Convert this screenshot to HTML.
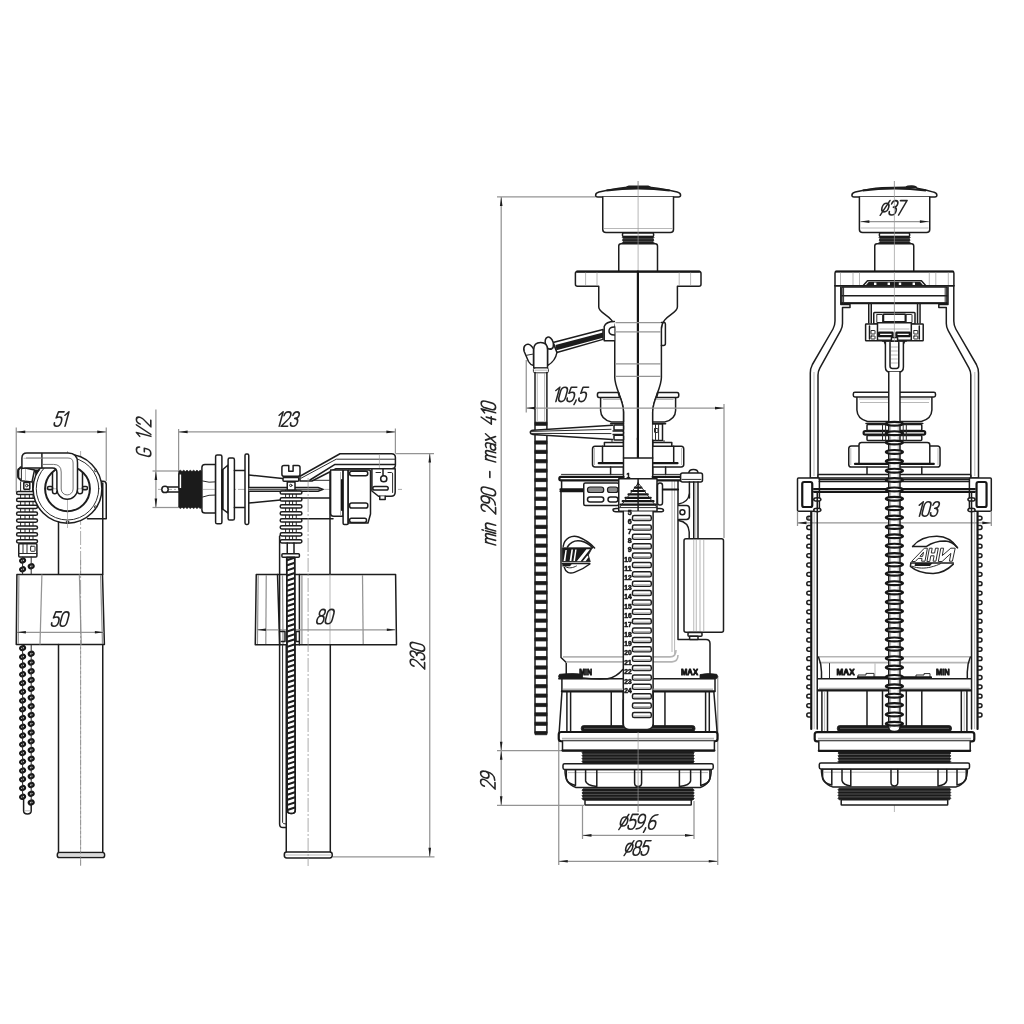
<!DOCTYPE html>
<html><head><meta charset="utf-8"><title>drawing</title>
<style>
html,body{margin:0;padding:0;background:#fff;}
body{width:1024px;height:1024px;overflow:hidden;font-family:"Liberation Sans",sans-serif;}
svg{display:block;filter:blur(0.4px) grayscale(1);}
.k{fill:none;stroke:#1d1d1d;stroke-width:1.5;stroke-linecap:round;stroke-linejoin:round;}
.kw{fill:#fff;stroke:#1d1d1d;stroke-width:1.5;stroke-linecap:round;stroke-linejoin:round;}
.K{fill:none;stroke:#161616;stroke-width:2.2;stroke-linecap:round;stroke-linejoin:round;}
.Kw{fill:#fff;stroke:#161616;stroke-width:2.2;stroke-linecap:round;stroke-linejoin:round;}
.m{fill:none;stroke:#2b2b2b;stroke-width:1.0;stroke-linecap:round;stroke-linejoin:round;}
.mw{fill:#fff;stroke:#2b2b2b;stroke-width:1.0;stroke-linecap:round;stroke-linejoin:round;}
.k2{fill:none;stroke:#1d1d1d;stroke-width:2.0;}
.mg{fill:none;stroke:#6a6a6a;stroke-width:0.95;}
.t{fill:none;stroke:#949494;stroke-width:1.25;}
.tt{fill:none;stroke:#9a9a9a;stroke-width:0.7;}
.g{fill:none;stroke:#b5b5b5;stroke-width:1.6;}
.cl{fill:none;stroke:#8a8a8a;stroke-width:0.7;stroke-dasharray:14 2 2 2;}
.f{fill:#1d1d1d;stroke:none;}
.fk{fill:#1b1b1b;stroke:#1b1b1b;stroke-width:0.8;stroke-linejoin:round;}
.fg{fill:#8c8c8c;stroke:#1d1d1d;stroke-width:1.2;}
.wl{fill:none;stroke:#777;stroke-width:0.6;}
.w{fill:#fff;stroke:none;}
.tx{fill:none;stroke:#262626;stroke-linecap:round;stroke-linejoin:round;}
.b{font-family:"Liberation Sans",sans-serif;font-weight:bold;fill:#161616;stroke:#161616;stroke-width:0.55;stroke-linejoin:round;}
.b2{stroke-width:1.0;}
</style></head><body>
<svg width="1024" height="1024" viewBox="0 0 1024 1024">
<rect x="0" y="0" width="1024" height="1024" fill="#fff"/>
<g id="p1">
<line class="cl" x1="80.60" y1="451.00" x2="80.60" y2="866.00"/>
<line class="t" x1="16.25" y1="427.50" x2="16.25" y2="492.00"/>
<line class="t" x1="106.25" y1="427.50" x2="106.25" y2="481.00"/>
<line class="t" x1="16.25" y1="431.90" x2="106.25" y2="431.90"/>
<path class="f" d="M16.25,431.90 L25.25,430.60 L25.25,433.20 Z"/>
<path class="f" d="M106.25,431.90 L97.25,433.20 L97.25,430.60 Z"/>
<g transform="translate(53.50,426.30) rotate(0) skewX(-15) scale(1.440) translate(0,-10)" class="tx" style="stroke-width:1.111">
<path transform="translate(0.00,0)" d="M4.6,0 H0.8 L0.3,4.2 Q1.3,3.5 2.4,3.5 Q4.6,3.5 4.6,6.6 Q4.6,10 2.3,10 Q0,10 0,7.6"/>
<path transform="translate(5.90,0)" d="M0,2.3 L2.1,0 V10"/>
</g>
<line class="m" x1="20.60" y1="491.00" x2="20.60" y2="543.00"/>
<line class="m" x1="25.00" y1="491.00" x2="25.00" y2="543.00"/>
<line class="m" x1="29.40" y1="491.00" x2="29.40" y2="543.00"/>
<line class="m" x1="33.00" y1="491.00" x2="33.00" y2="543.00"/>
<rect class="kw" x="16.60" y="491.40" width="20.90" height="3.20" rx="1.6"/>
<rect class="kw" x="16.60" y="498.30" width="20.90" height="3.20" rx="1.6"/>
<rect class="kw" x="16.60" y="505.20" width="20.90" height="3.20" rx="1.6"/>
<rect class="kw" x="16.60" y="512.10" width="20.90" height="3.20" rx="1.6"/>
<rect class="kw" x="16.60" y="519.00" width="20.90" height="3.20" rx="1.6"/>
<rect class="kw" x="16.60" y="525.90" width="20.90" height="3.20" rx="1.6"/>
<rect class="kw" x="16.60" y="532.80" width="20.90" height="3.20" rx="1.6"/>
<rect class="kw" x="16.60" y="539.70" width="20.90" height="3.20" rx="1.6"/>
<rect class="kw" x="18.75" y="543.75" width="18.15" height="13.15" rx="1"/>
<line class="m" x1="18.75" y1="553.50" x2="36.90" y2="553.50"/>
<rect class="m" x="30.60" y="546.25" width="4.40" height="5.00" rx="0.5"/>
<line class="m" x1="23.00" y1="544.00" x2="23.00" y2="553.50"/>
<line class="m" x1="27.00" y1="544.00" x2="27.00" y2="553.50"/>
<path class="kw" d="M20.6,466.9 L18.6,470 V478 L21,480.8 L32,482 L34.5,470 Z"/>
<line class="m" x1="21.40" y1="468.00" x2="21.40" y2="480.40"/>
<line class="tt" x1="25.50" y1="468.50" x2="25.50" y2="481.00"/>
<path class="k" d="M20.4,468 Q17.8,468.5 17.8,471 V476 Q17.8,478.6 20,478.8"/>
<line class="m" x1="20.60" y1="482.00" x2="20.60" y2="491.00"/>
<line class="m" x1="32.50" y1="482.00" x2="32.50" y2="491.00"/>
<rect class="kw" x="23.80" y="482.40" width="6.00" height="6.80" rx="0.4"/>
<circle class="m" cx="26.80" cy="485.60" r="1.30"/>
<path class="kw" d="M87.5,518.75 H106.25 V484.5 Q106.25,481.3 103,481.3 H99"/>
<line class="k" x1="102.75" y1="483.00" x2="102.75" y2="574.40"/>
<circle class="kw" cx="67.50" cy="488.75" r="34.40"/>
<circle class="m" cx="67.50" cy="488.75" r="31.25"/>
<circle class="k2" cx="67.50" cy="488.75" r="22.40"/>
<path class="f" d="M34.4,469.6 L40.4,469.6 L35.6,475.4 Z"/>
<circle class="m" cx="67.50" cy="522.00" r="1.30"/>
<circle class="m" cx="95.50" cy="470.50" r="1.10"/>
<circle class="m" cx="95.50" cy="507.00" r="1.10"/>
<line class="tt" x1="46.00" y1="488.75" x2="88.00" y2="488.75"/>
<line class="tt" x1="67.50" y1="451.00" x2="67.50" y2="528.00"/>
<path class="k" d="M52.5,472.5 V491.5 Q52.5,493.8 54.7,493.8 Q56.9,493.8 56.9,491.5"/>
<path class="k" d="M82.5,472.5 V491.5 Q82.5,493.8 80,493.8 Q77.5,493.8 77.5,491.5"/>
<rect class="k" x="47.60" y="486.40" width="4.90" height="3.40" rx="1.2"/>
<rect class="k" x="82.50" y="486.40" width="4.90" height="3.40" rx="1.2"/>
<path class="kw" d="M21.9,468.4 V458.1 Q21.9,453.1 26.9,453.1 H68.1 Q77.5,453.1 77.5,462.5 V489 A10.3,10.3 0 0 1 56.9,489 V472.5 Q56.9,468.1 52.5,468.1 H25 Q21.9,468.4 21.9,468.4 Z"/>
<line class="k" x1="41.90" y1="453.40" x2="41.90" y2="468.10"/>
<path class="mg" d="M42.5,464.4 H53.5 Q61.2,464.4 61.2,472 V489 A5.95,5.95 0 0 0 73.1,489 V463 Q73.1,458 68,458 H26"/>
<path class="tt" d="M23.5,458.3 H41.9"/>
<line class="k" x1="58.50" y1="522.00" x2="58.50" y2="574.40"/>
<path class="kw" d="M16.9,574.4 H102.5 L104.4,644.4 H16.25 Z"/>
<line class="t" x1="18.90" y1="575.00" x2="18.20" y2="644.00"/>
<line class="t" x1="41.90" y1="574.40" x2="40.00" y2="644.40"/>
<line class="t" x1="79.40" y1="574.40" x2="81.25" y2="644.40"/>
<line class="t" x1="100.60" y1="575.00" x2="102.50" y2="644.00"/>
<line class="t" x1="16.90" y1="632.25" x2="103.90" y2="632.25"/>
<path class="f" d="M16.90,632.25 L25.90,630.95 L25.90,633.55 Z"/>
<path class="f" d="M103.90,632.25 L94.90,633.55 L94.90,630.95 Z"/>
<g transform="translate(50.80,626.30) rotate(0) skewX(-15) scale(1.440) translate(0,-10)" class="tx" style="stroke-width:1.111">
<path transform="translate(0.00,0)" d="M4.6,0 H0.8 L0.3,4.2 Q1.3,3.5 2.4,3.5 Q4.6,3.5 4.6,6.6 Q4.6,10 2.3,10 Q0,10 0,7.6"/>
<path transform="translate(5.90,0)" d="M0,3 Q0,0 2.3,0 Q4.6,0 4.6,3 V7 Q4.6,10 2.3,10 Q0,10 0,7 Z"/>
</g>
<line class="k" x1="58.50" y1="644.40" x2="58.50" y2="852.50"/>
<line class="k" x1="102.75" y1="644.40" x2="102.75" y2="852.50"/>
<rect class="kw" x="57.30" y="852.50" width="47.30" height="5.10" rx="2.2"/>
<line class="tt" x1="58.00" y1="855.00" x2="104.00" y2="855.00"/>
<line class="cl" x1="80.60" y1="560.00" x2="80.60" y2="866.00"/>
<ellipse class="Kw" cx="22.60" cy="560.60" rx="2.50" ry="1.90" transform="rotate(-25 22.60 560.60)"/>
<ellipse class="Kw" cx="22.60" cy="569.35" rx="2.50" ry="1.90" transform="rotate(-25 22.60 569.35)"/>
<ellipse class="Kw" cx="22.60" cy="648.10" rx="2.50" ry="1.90" transform="rotate(-25 22.60 648.10)"/>
<ellipse class="Kw" cx="22.60" cy="656.85" rx="2.50" ry="1.90" transform="rotate(-25 22.60 656.85)"/>
<ellipse class="Kw" cx="22.60" cy="665.60" rx="2.50" ry="1.90" transform="rotate(-25 22.60 665.60)"/>
<ellipse class="Kw" cx="22.60" cy="674.35" rx="2.50" ry="1.90" transform="rotate(-25 22.60 674.35)"/>
<ellipse class="Kw" cx="22.60" cy="683.10" rx="2.50" ry="1.90" transform="rotate(-25 22.60 683.10)"/>
<ellipse class="Kw" cx="22.60" cy="691.85" rx="2.50" ry="1.90" transform="rotate(-25 22.60 691.85)"/>
<ellipse class="Kw" cx="22.60" cy="700.60" rx="2.50" ry="1.90" transform="rotate(-25 22.60 700.60)"/>
<ellipse class="Kw" cx="22.60" cy="709.35" rx="2.50" ry="1.90" transform="rotate(-25 22.60 709.35)"/>
<ellipse class="Kw" cx="22.60" cy="718.10" rx="2.50" ry="1.90" transform="rotate(-25 22.60 718.10)"/>
<ellipse class="Kw" cx="22.60" cy="726.85" rx="2.50" ry="1.90" transform="rotate(-25 22.60 726.85)"/>
<ellipse class="Kw" cx="22.60" cy="735.60" rx="2.50" ry="1.90" transform="rotate(-25 22.60 735.60)"/>
<ellipse class="Kw" cx="22.60" cy="744.35" rx="2.50" ry="1.90" transform="rotate(-25 22.60 744.35)"/>
<ellipse class="Kw" cx="22.60" cy="753.10" rx="2.50" ry="1.90" transform="rotate(-25 22.60 753.10)"/>
<ellipse class="Kw" cx="22.60" cy="761.85" rx="2.50" ry="1.90" transform="rotate(-25 22.60 761.85)"/>
<ellipse class="Kw" cx="22.60" cy="770.60" rx="2.50" ry="1.90" transform="rotate(-25 22.60 770.60)"/>
<ellipse class="Kw" cx="22.60" cy="779.35" rx="2.50" ry="1.90" transform="rotate(-25 22.60 779.35)"/>
<ellipse class="Kw" cx="22.60" cy="788.10" rx="2.50" ry="1.90" transform="rotate(-25 22.60 788.10)"/>
<ellipse class="Kw" cx="22.60" cy="796.85" rx="2.50" ry="1.90" transform="rotate(-25 22.60 796.85)"/>
<ellipse class="Kw" cx="31.20" cy="566.25" rx="2.50" ry="1.90" transform="rotate(-25 31.20 566.25)"/>
<ellipse class="Kw" cx="31.20" cy="653.75" rx="2.50" ry="1.90" transform="rotate(-25 31.20 653.75)"/>
<ellipse class="Kw" cx="31.20" cy="662.50" rx="2.50" ry="1.90" transform="rotate(-25 31.20 662.50)"/>
<ellipse class="Kw" cx="31.20" cy="671.25" rx="2.50" ry="1.90" transform="rotate(-25 31.20 671.25)"/>
<ellipse class="Kw" cx="31.20" cy="680.00" rx="2.50" ry="1.90" transform="rotate(-25 31.20 680.00)"/>
<ellipse class="Kw" cx="31.20" cy="688.75" rx="2.50" ry="1.90" transform="rotate(-25 31.20 688.75)"/>
<ellipse class="Kw" cx="31.20" cy="697.50" rx="2.50" ry="1.90" transform="rotate(-25 31.20 697.50)"/>
<ellipse class="Kw" cx="31.20" cy="706.25" rx="2.50" ry="1.90" transform="rotate(-25 31.20 706.25)"/>
<ellipse class="Kw" cx="31.20" cy="715.00" rx="2.50" ry="1.90" transform="rotate(-25 31.20 715.00)"/>
<ellipse class="Kw" cx="31.20" cy="723.75" rx="2.50" ry="1.90" transform="rotate(-25 31.20 723.75)"/>
<ellipse class="Kw" cx="31.20" cy="732.50" rx="2.50" ry="1.90" transform="rotate(-25 31.20 732.50)"/>
<ellipse class="Kw" cx="31.20" cy="741.25" rx="2.50" ry="1.90" transform="rotate(-25 31.20 741.25)"/>
<ellipse class="Kw" cx="31.20" cy="750.00" rx="2.50" ry="1.90" transform="rotate(-25 31.20 750.00)"/>
<ellipse class="Kw" cx="31.20" cy="758.75" rx="2.50" ry="1.90" transform="rotate(-25 31.20 758.75)"/>
<ellipse class="Kw" cx="31.20" cy="767.50" rx="2.50" ry="1.90" transform="rotate(-25 31.20 767.50)"/>
<ellipse class="Kw" cx="31.20" cy="776.25" rx="2.50" ry="1.90" transform="rotate(-25 31.20 776.25)"/>
<ellipse class="Kw" cx="31.20" cy="785.00" rx="2.50" ry="1.90" transform="rotate(-25 31.20 785.00)"/>
<ellipse class="Kw" cx="31.20" cy="793.75" rx="2.50" ry="1.90" transform="rotate(-25 31.20 793.75)"/>
<ellipse class="Kw" cx="31.20" cy="802.50" rx="2.50" ry="1.90" transform="rotate(-25 31.20 802.50)"/>
<line class="m" x1="22.60" y1="557.00" x2="22.60" y2="574.00"/>
<line class="m" x1="31.20" y1="557.00" x2="31.20" y2="574.00"/>
<line class="m" x1="22.60" y1="645.00" x2="22.60" y2="798.00"/>
<line class="m" x1="31.20" y1="645.00" x2="31.20" y2="803.00"/>
<path class="k" d="M23.6,799 V811 Q23.6,813.9 27.4,813.9 Q31.2,813.9 31.2,811 V804"/>
<line class="tt" x1="24.50" y1="810.80" x2="30.40" y2="810.80"/>
</g>
<g id="p2">
<line class="cl" x1="158.00" y1="489.40" x2="402.00" y2="489.40"/>
<line class="t" x1="155.90" y1="409.40" x2="155.90" y2="507.50"/>
<path class="f" d="M155.90,471.00 L157.20,480.00 L154.60,480.00 Z"/>
<path class="f" d="M155.90,507.50 L154.60,498.50 L157.20,498.50 Z"/>
<line class="t" x1="152.50" y1="471.00" x2="178.75" y2="471.00"/>
<line class="t" x1="152.50" y1="507.50" x2="178.75" y2="507.50"/>
<g transform="translate(150.80,457.20) rotate(-90) skewX(-15) scale(1.440) translate(0,-10)" class="tx" style="stroke-width:1.111">
<path transform="translate(0.00,0)" d="M5,2.2 Q4.6,0 2.5,0 Q0,0 0,3 V7 Q0,10 2.5,10 Q5,10 5,7.5 V5.5 H2.6"/>
<path transform="translate(12.40,0)" d="M0,2.3 L2.1,0 V10"/>
<path transform="translate(15.80,0)" d="M0,10 L4,0"/>
<path transform="translate(21.10,0)" d="M0,2.6 Q0,0 2.3,0 Q4.6,0 4.6,2.5 Q4.6,4.4 3,6 L0,10 H4.5"/>
</g>
<line class="t" x1="178.60" y1="429.00" x2="178.60" y2="471.00"/>
<line class="t" x1="395.40" y1="428.50" x2="395.40" y2="453.50"/>
<line class="t" x1="178.60" y1="431.90" x2="395.40" y2="431.90"/>
<path class="f" d="M178.60,431.90 L187.60,430.60 L187.60,433.20 Z"/>
<path class="f" d="M395.40,431.90 L386.40,433.20 L386.40,430.60 Z"/>
<g transform="translate(276.20,426.30) rotate(0) skewX(-15) scale(1.440) translate(0,-10)" class="tx" style="stroke-width:1.111">
<path transform="translate(0.00,0)" d="M0,2.3 L2.1,0 V10"/>
<path transform="translate(3.45,0)" d="M0,2.6 Q0,0 2.3,0 Q4.6,0 4.6,2.5 Q4.6,4.4 3,6 L0,10 H4.5"/>
<path transform="translate(9.40,0)" d="M0.2,2.4 Q0.4,0 2.3,0 Q4.4,0 4.4,2.3 Q4.4,4.4 2,4.5 Q4.6,4.6 4.6,7.2 Q4.6,10 2.3,10 Q0,10 0,7.6"/>
</g>
<line class="t" x1="395.40" y1="453.50" x2="434.00" y2="453.50"/>
<line class="t" x1="333.00" y1="856.80" x2="434.50" y2="856.80"/>
<line class="t" x1="429.75" y1="453.50" x2="429.75" y2="856.80"/>
<path class="f" d="M429.75,453.50 L431.05,462.50 L428.45,462.50 Z"/>
<path class="f" d="M429.75,856.80 L428.45,847.80 L431.05,847.80 Z"/>
<g transform="translate(424.60,669.00) rotate(-90) skewX(-15) scale(1.440) translate(0,-10)" class="tx" style="stroke-width:1.111">
<path transform="translate(0.00,0)" d="M0,2.6 Q0,0 2.3,0 Q4.6,0 4.6,2.5 Q4.6,4.4 3,6 L0,10 H4.5"/>
<path transform="translate(5.90,0)" d="M0.2,2.4 Q0.4,0 2.3,0 Q4.4,0 4.4,2.3 Q4.4,4.4 2,4.5 Q4.6,4.6 4.6,7.2 Q4.6,10 2.3,10 Q0,10 0,7.6"/>
<path transform="translate(11.80,0)" d="M0,3 Q0,0 2.3,0 Q4.6,0 4.6,3 V7 Q4.6,10 2.3,10 Q0,10 0,7 Z"/>
</g>
<line class="k" x1="168.00" y1="486.90" x2="178.75" y2="486.90"/>
<line class="k" x1="168.00" y1="491.90" x2="178.75" y2="491.90"/>
<circle class="kw" cx="165.00" cy="489.40" r="3.20"/>
<path class="fk" d="M178.75,471.25 L180.40,470.30 L182.06,471.60 L183.71,470.30 L185.36,471.60 L187.02,470.30 L188.67,471.60 L190.32,470.30 L191.98,471.60 L193.63,470.30 L195.29,471.60 L196.94,470.30 L198.59,471.60 L200.25,470.30 L201.90,471.60 L201.9,507.2 L200.25,508.50 L198.59,507.20 L196.94,508.50 L195.29,507.20 L193.63,508.50 L191.98,507.20 L190.32,508.50 L188.67,507.20 L187.02,508.50 L185.36,507.20 L183.71,508.50 L182.06,507.20 L180.40,508.50 L178.75,507.20 Z"/>
<rect class="kw" x="178.90" y="473.75" width="3.00" height="15.00" rx="0.3"/>
<path class="kw" d="M215.6,464.4 H205 Q201.9,464.4 201.9,467.5 V510 Q201.9,513.1 205,513.1 H215.6 Z"/>
<path class="m" d="M202.5,481 Q209,483 215.6,481.9"/>
<path class="m" d="M202.5,497 Q209,494.5 215.6,495"/>
<line class="tt" x1="203.00" y1="489.40" x2="215.00" y2="489.40"/>
<rect class="kw" x="215.60" y="455.00" width="6.30" height="68.75" rx="1.6"/>
<path class="kw" d="M222.2,470 L228.1,465 V513.1 L222.2,508.75 Z"/>
<line class="K" x1="222.60" y1="470.00" x2="222.60" y2="508.75"/>
<rect class="kw" x="228.10" y="458.10" width="6.30" height="61.90" rx="1.6"/>
<line class="k" x1="234.40" y1="470.60" x2="245.00" y2="470.60"/>
<line class="k" x1="234.40" y1="507.50" x2="245.00" y2="507.50"/>
<rect class="kw" x="245.00" y="454.00" width="3.75" height="70.40" rx="1.4"/>
<line class="k" x1="248.75" y1="475.00" x2="282.50" y2="478.50"/>
<line class="k" x1="248.75" y1="503.10" x2="280.60" y2="500.00"/>
<line class="k" x1="330.00" y1="470.00" x2="330.00" y2="574.40"/>
<line class="m" x1="301.50" y1="480.30" x2="330.00" y2="480.30"/>
<line class="k" x1="301.50" y1="498.10" x2="330.00" y2="498.10"/>
<line class="k" x1="301.50" y1="518.75" x2="333.00" y2="518.75"/>
<path class="kw" d="M248.75,487.5 H318 L323.1,489.4 L318,491.2 H248.75"/>
<line class="m" x1="249.00" y1="489.30" x2="320.00" y2="489.30"/>
<path class="kw" d="M300,476.25 L340,453.75 H391.5 Q395.4,453.75 395.4,457.5 V465 Q395.4,468.75 391.5,468.75 H336 L312,481 H300 Z"/>
<path class="m" d="M301.25,478.1 L336.25,459.2 H395"/>
<path class="k" d="M310,480 L335,464.4 H395"/>
<line class="tt" x1="379.40" y1="454.00" x2="379.40" y2="468.50"/>
<path class="kw" d="M330.6,470 H343.1 V516.25 H333.5 Q330.6,516.25 330.6,513.5 Z"/>
<rect class="kw" x="343.10" y="470.00" width="5.10" height="54.40" rx="1.2"/>
<path class="kw" d="M348.2,470 H369 Q370.5,470 370.5,472 V514 L368,523 H348.2 Z"/>
<rect class="kw" x="349.60" y="471.30" width="18.20" height="4.40" rx="2.1"/>
<rect class="kw" x="349.60" y="503.00" width="18.20" height="5.00" rx="2.1"/>
<rect class="kw" x="349.60" y="518.20" width="16.90" height="4.20" rx="1.8"/>
<line class="tt" x1="340.50" y1="472.00" x2="340.50" y2="515.00"/>
<line class="K" x1="342.00" y1="480.00" x2="342.00" y2="510.00"/>
<path class="kw" d="M371.9,468.75 H395.2 V492 Q395.2,496.25 391,496.25 H378.5 L371.9,491 Z"/>
<path class="k" d="M383,469 V475.6"/>
<circle class="kw" cx="383.75" cy="478.75" r="3.10"/>
<rect class="kw" x="372.80" y="486.40" width="15.40" height="3.70" rx="1.8"/>
<path class="kw" d="M379.75,496.25 V499.4 H385.2 V496.25"/>
<path class="m" d="M376,472.5 H380.5 M388,472.5 H391.6 Q392.6,472.5 392.6,474 V492.5"/>
<path class="kw" d="M256.25,574.4 H395.6 L396.5,644.75 H255.25 Z"/>
<line class="t" x1="266.25" y1="575.00" x2="265.80" y2="644.00"/>
<line class="t" x1="282.50" y1="575.00" x2="283.00" y2="644.00"/>
<line class="t" x1="301.90" y1="575.00" x2="301.90" y2="644.00"/>
<line class="t" x1="362.50" y1="575.00" x2="363.20" y2="644.00"/>
<line class="t" x1="258.20" y1="575.00" x2="257.40" y2="644.00"/>
<line class="k" x1="277.50" y1="574.40" x2="279.70" y2="644.75"/>
<line class="k" x1="299.40" y1="574.40" x2="299.40" y2="644.75"/>
<line class="tt" x1="330.00" y1="574.40" x2="330.00" y2="644.00"/>
<line class="t" x1="256.90" y1="629.75" x2="395.80" y2="629.75"/>
<path class="f" d="M256.90,629.75 L265.90,628.45 L265.90,631.05 Z"/>
<path class="f" d="M395.80,629.75 L386.80,631.05 L386.80,628.45 Z"/>
<g transform="translate(316.00,623.80) rotate(0) skewX(-15) scale(1.440) translate(0,-10)" class="tx" style="stroke-width:1.111">
<path transform="translate(0.00,0)" d="M2.3,4.5 Q0.4,4.5 0.4,2.2 Q0.4,0 2.3,0 Q4.2,0 4.2,2.2 Q4.2,4.5 2.3,4.5 Q0,4.5 0,7.3 Q0,10 2.3,10 Q4.6,10 4.6,7.3 Q4.6,4.5 2.3,4.5"/>
<path transform="translate(5.90,0)" d="M0,3 Q0,0 2.3,0 Q4.6,0 4.6,3 V7 Q4.6,10 2.3,10 Q0,10 0,7 Z"/>
</g>
<line class="m" x1="285.60" y1="490.00" x2="285.60" y2="543.00"/>
<line class="m" x1="289.40" y1="490.00" x2="289.40" y2="543.00"/>
<line class="m" x1="292.60" y1="490.00" x2="292.60" y2="543.00"/>
<line class="m" x1="296.25" y1="490.00" x2="296.25" y2="543.00"/>
<rect class="kw" x="280.20" y="490.90" width="21.70" height="3.20" rx="1.6"/>
<rect class="kw" x="280.20" y="497.87" width="21.70" height="3.20" rx="1.6"/>
<rect class="kw" x="280.20" y="504.84" width="21.70" height="3.20" rx="1.6"/>
<rect class="kw" x="280.20" y="511.81" width="21.70" height="3.20" rx="1.6"/>
<rect class="kw" x="280.20" y="518.78" width="21.70" height="3.20" rx="1.6"/>
<rect class="kw" x="280.20" y="525.75" width="21.70" height="3.20" rx="1.6"/>
<rect class="kw" x="280.20" y="532.72" width="21.70" height="3.20" rx="1.6"/>
<rect class="kw" x="280.20" y="539.69" width="21.70" height="3.20" rx="1.6"/>
<path class="kw" d="M284,465.6 H288.75 V471.25 H293.1 V465.6 H298 Q300,465.6 300,467.6 V474.2 Q300,476.25 298,476.25 H284 Q281.9,476.25 281.9,474.2 V467.6 Q281.9,465.6 284,465.6 Z"/>
<rect class="kw" x="283.00" y="477.50" width="15.75" height="3.75" rx="1"/>
<rect class="kw" x="287.25" y="481.90" width="7.75" height="8.10" rx="0.5"/>
<circle class="m" cx="290.80" cy="485.40" r="1.20"/>
<line class="k" x1="287.25" y1="543.00" x2="287.25" y2="553.75"/>
<line class="k" x1="294.00" y1="543.00" x2="294.00" y2="553.75"/>
<rect class="kw" x="281.90" y="553.75" width="17.50" height="3.50" rx="1"/>
<path class="k" d="M279.6,536 V824 Q279.6,827.6 283,827.6 H286"/>
<path class="m" d="M282.6,644.75 V822.5 Q282.8,824 286,824"/>
<line class="k" x1="286.25" y1="644.75" x2="286.25" y2="852.00"/>
<line class="k" x1="330.30" y1="644.75" x2="330.30" y2="852.00"/>
<rect class="kw" x="284.30" y="852.00" width="47.90" height="6.00" rx="2.4"/>
<line class="tt" x1="285.00" y1="855.00" x2="331.50" y2="855.00"/>
<clipPath id="rodc"><path d="M286.7,557.5 H294.7 L295.3,810 Q295.3,813.6 291.3,813.6 Q287.3,813.6 287.3,810 Z"/></clipPath>
<path class="kw" d="M286.7,557.5 H294.7 L295.3,810 Q295.3,813.6 291.3,813.6 Q287.3,813.6 287.3,810 Z"/>
<g clip-path="url(#rodc)">
<path class="f" d="M285.5,559.60 L296.5,556.00 L296.5,558.20 L285.5,561.80 Z"/>
<path class="f" d="M285.5,564.70 L296.5,561.10 L296.5,563.30 L285.5,566.90 Z"/>
<path class="f" d="M285.5,569.80 L296.5,566.20 L296.5,568.40 L285.5,572.00 Z"/>
<path class="f" d="M285.5,574.90 L296.5,571.30 L296.5,573.50 L285.5,577.10 Z"/>
<path class="f" d="M285.5,580.00 L296.5,576.40 L296.5,578.60 L285.5,582.20 Z"/>
<path class="f" d="M285.5,585.10 L296.5,581.50 L296.5,583.70 L285.5,587.30 Z"/>
<path class="f" d="M285.5,590.20 L296.5,586.60 L296.5,588.80 L285.5,592.40 Z"/>
<path class="f" d="M285.5,595.30 L296.5,591.70 L296.5,593.90 L285.5,597.50 Z"/>
<path class="f" d="M285.5,600.40 L296.5,596.80 L296.5,599.00 L285.5,602.60 Z"/>
<path class="f" d="M285.5,605.50 L296.5,601.90 L296.5,604.10 L285.5,607.70 Z"/>
<path class="f" d="M285.5,610.60 L296.5,607.00 L296.5,609.20 L285.5,612.80 Z"/>
<path class="f" d="M285.5,615.70 L296.5,612.10 L296.5,614.30 L285.5,617.90 Z"/>
<path class="f" d="M285.5,620.80 L296.5,617.20 L296.5,619.40 L285.5,623.00 Z"/>
<path class="f" d="M285.5,625.90 L296.5,622.30 L296.5,624.50 L285.5,628.10 Z"/>
<path class="f" d="M285.5,631.00 L296.5,627.40 L296.5,629.60 L285.5,633.20 Z"/>
<path class="f" d="M285.5,636.10 L296.5,632.50 L296.5,634.70 L285.5,638.30 Z"/>
<path class="f" d="M285.5,641.20 L296.5,637.60 L296.5,639.80 L285.5,643.40 Z"/>
<path class="f" d="M285.5,646.30 L296.5,642.70 L296.5,644.90 L285.5,648.50 Z"/>
<path class="f" d="M285.5,651.40 L296.5,647.80 L296.5,650.00 L285.5,653.60 Z"/>
<path class="f" d="M285.5,656.50 L296.5,652.90 L296.5,655.10 L285.5,658.70 Z"/>
<path class="f" d="M285.5,661.60 L296.5,658.00 L296.5,660.20 L285.5,663.80 Z"/>
<path class="f" d="M285.5,666.70 L296.5,663.10 L296.5,665.30 L285.5,668.90 Z"/>
<path class="f" d="M285.5,671.80 L296.5,668.20 L296.5,670.40 L285.5,674.00 Z"/>
<path class="f" d="M285.5,676.90 L296.5,673.30 L296.5,675.50 L285.5,679.10 Z"/>
<path class="f" d="M285.5,682.00 L296.5,678.40 L296.5,680.60 L285.5,684.20 Z"/>
<path class="f" d="M285.5,687.10 L296.5,683.50 L296.5,685.70 L285.5,689.30 Z"/>
<path class="f" d="M285.5,692.20 L296.5,688.60 L296.5,690.80 L285.5,694.40 Z"/>
<path class="f" d="M285.5,697.30 L296.5,693.70 L296.5,695.90 L285.5,699.50 Z"/>
<path class="f" d="M285.5,702.40 L296.5,698.80 L296.5,701.00 L285.5,704.60 Z"/>
<path class="f" d="M285.5,707.50 L296.5,703.90 L296.5,706.10 L285.5,709.70 Z"/>
<path class="f" d="M285.5,712.60 L296.5,709.00 L296.5,711.20 L285.5,714.80 Z"/>
<path class="f" d="M285.5,717.70 L296.5,714.10 L296.5,716.30 L285.5,719.90 Z"/>
<path class="f" d="M285.5,722.80 L296.5,719.20 L296.5,721.40 L285.5,725.00 Z"/>
<path class="f" d="M285.5,727.90 L296.5,724.30 L296.5,726.50 L285.5,730.10 Z"/>
<path class="f" d="M285.5,733.00 L296.5,729.40 L296.5,731.60 L285.5,735.20 Z"/>
<path class="f" d="M285.5,738.10 L296.5,734.50 L296.5,736.70 L285.5,740.30 Z"/>
<path class="f" d="M285.5,743.20 L296.5,739.60 L296.5,741.80 L285.5,745.40 Z"/>
<path class="f" d="M285.5,748.30 L296.5,744.70 L296.5,746.90 L285.5,750.50 Z"/>
<path class="f" d="M285.5,753.40 L296.5,749.80 L296.5,752.00 L285.5,755.60 Z"/>
<path class="f" d="M285.5,758.50 L296.5,754.90 L296.5,757.10 L285.5,760.70 Z"/>
<path class="f" d="M285.5,763.60 L296.5,760.00 L296.5,762.20 L285.5,765.80 Z"/>
<path class="f" d="M285.5,768.70 L296.5,765.10 L296.5,767.30 L285.5,770.90 Z"/>
<path class="f" d="M285.5,773.80 L296.5,770.20 L296.5,772.40 L285.5,776.00 Z"/>
<path class="f" d="M285.5,778.90 L296.5,775.30 L296.5,777.50 L285.5,781.10 Z"/>
<path class="f" d="M285.5,784.00 L296.5,780.40 L296.5,782.60 L285.5,786.20 Z"/>
<path class="f" d="M285.5,789.10 L296.5,785.50 L296.5,787.70 L285.5,791.30 Z"/>
<path class="f" d="M285.5,794.20 L296.5,790.60 L296.5,792.80 L285.5,796.40 Z"/>
<path class="f" d="M285.5,799.30 L296.5,795.70 L296.5,797.90 L285.5,801.50 Z"/>
<path class="f" d="M285.5,804.40 L296.5,800.80 L296.5,803.00 L285.5,806.60 Z"/>
<path class="f" d="M285.5,809.50 L296.5,805.90 L296.5,808.10 L285.5,811.70 Z"/>
</g>
<path class="k" d="M286.7,557.5 H294.7 L295.3,810 Q295.3,813.6 291.3,813.6 Q287.3,813.6 287.3,810 Z"/>
<path class="k" d="M280.6,631.5 H285 V641.5 H281.4"/>
<path class="k" d="M298.9,631.5 H296 V641.5 H298.9"/>
<line class="cl" x1="308.10" y1="478.00" x2="308.10" y2="866.00"/>
</g>
<g id="p3">
<line class="t" x1="497.00" y1="196.90" x2="595.60" y2="196.90"/>
<line class="t" x1="501.20" y1="196.90" x2="501.20" y2="805.30"/>
<path class="f" d="M501.20,196.90 L502.50,205.90 L499.90,205.90 Z"/>
<path class="f" d="M501.20,750.70 L499.90,741.70 L502.50,741.70 Z"/>
<path class="f" d="M501.20,805.30 L499.90,796.30 L502.50,796.30 Z"/>
<path class="f" d="M501.20,750.70 L502.50,759.70 L499.90,759.70 Z"/>
<line class="t" x1="497.00" y1="750.70" x2="563.50" y2="750.70"/>
<line class="t" x1="497.00" y1="805.30" x2="584.00" y2="805.30"/>
<g transform="translate(495.60,545.00) rotate(-90) skewX(-15) scale(1.440) translate(0,-10)" class="tx" style="stroke-width:1.111">
<path transform="translate(0.00,0)" d="M0,3 V10 M0,5 Q0.4,3 1.8,3 Q3.2,3 3.2,5 V10 M3.2,5 Q3.6,3 5,3 Q6.4,3 6.4,5 V10"/>
<path transform="translate(7.86,0)" d="M0.2,3 V10 M0.2,0.6 V1.4"/>
<path transform="translate(9.73,0)" d="M0,3 V10 M0,5.2 Q0.5,3 2.2,3 Q4,3 4,5.2 V10"/>
<path transform="translate(21.45,0)" d="M0,2.6 Q0,0 2.3,0 Q4.6,0 4.6,2.5 Q4.6,4.4 3,6 L0,10 H4.5"/>
<path transform="translate(27.52,0)" d="M0.2,9.8 Q4.6,9.8 4.6,4 Q4.6,0 2.3,0 Q0,0 0,3 Q0,5.8 2.3,5.8 Q4.2,5.8 4.6,3.6"/>
<path transform="translate(33.58,0)" d="M0,3 Q0,0 2.3,0 Q4.6,0 4.6,3 V7 Q4.6,10 2.3,10 Q0,10 0,7 Z"/>
<path transform="translate(45.91,0)" d="M0,6 H4"/>
<path transform="translate(57.64,0)" d="M0,3 V10 M0,5 Q0.4,3 1.8,3 Q3.2,3 3.2,5 V10 M3.2,5 Q3.6,3 5,3 Q6.4,3 6.4,5 V10"/>
<path transform="translate(65.50,0)" d="M0.5,3.6 Q1.2,3 2.2,3 Q4,3 4,5 V10 M4,8 Q3.4,10 1.8,10 Q0,10 0,8.2 Q0,6.4 2,6.4 Q3.4,6.4 4,7"/>
<path transform="translate(70.96,0)" d="M0,3 L4.4,10 M4.4,3 L0,10"/>
<path transform="translate(83.09,0)" d="M3,0 L0,7 H5.2 M4,3.5 V10"/>
<path transform="translate(89.75,0)" d="M0,2.3 L2.1,0 V10"/>
<path transform="translate(93.32,0)" d="M0,3 Q0,0 2.3,0 Q4.6,0 4.6,3 V7 Q4.6,10 2.3,10 Q0,10 0,7 Z"/>
</g>
<g transform="translate(495.00,789.00) rotate(-90) skewX(-15) scale(1.440) translate(0,-10)" class="tx" style="stroke-width:1.111">
<path transform="translate(0.00,0)" d="M0,2.6 Q0,0 2.3,0 Q4.6,0 4.6,2.5 Q4.6,4.4 3,6 L0,10 H4.5"/>
<path transform="translate(5.90,0)" d="M0.2,9.8 Q4.6,9.8 4.6,4 Q4.6,0 2.3,0 Q0,0 0,3 Q0,5.8 2.3,5.8 Q4.2,5.8 4.6,3.6"/>
</g>
<line class="t" x1="526.25" y1="360.00" x2="526.25" y2="412.50"/>
<line class="t" x1="724.00" y1="404.00" x2="724.00" y2="538.00"/>
<g transform="translate(552.90,401.60) rotate(0) skewX(-15) scale(1.440) translate(0,-10)" class="tx" style="stroke-width:1.111">
<path transform="translate(0.00,0)" d="M0,2.3 L2.1,0 V10"/>
<path transform="translate(3.40,0)" d="M0,3 Q0,0 2.3,0 Q4.6,0 4.6,3 V7 Q4.6,10 2.3,10 Q0,10 0,7 Z"/>
<path transform="translate(9.30,0)" d="M4.6,0 H0.8 L0.3,4.2 Q1.3,3.5 2.4,3.5 Q4.6,3.5 4.6,6.6 Q4.6,10 2.3,10 Q0,10 0,7.6"/>
<path transform="translate(15.20,0)" d="M0.6,9 V10 L0,12"/>
<path transform="translate(17.50,0)" d="M4.6,0 H0.8 L0.3,4.2 Q1.3,3.5 2.4,3.5 Q4.6,3.5 4.6,6.6 Q4.6,10 2.3,10 Q0,10 0,7.6"/>
</g>
<line class="t" x1="582.50" y1="805.00" x2="582.50" y2="839.00"/>
<line class="t" x1="694.00" y1="801.00" x2="694.00" y2="839.00"/>
<line class="t" x1="582.50" y1="835.40" x2="694.00" y2="835.40"/>
<path class="f" d="M582.50,835.40 L591.50,834.10 L591.50,836.70 Z"/>
<path class="f" d="M694.00,835.40 L685.00,836.70 L685.00,834.10 Z"/>
<g transform="translate(618.20,829.20) rotate(0) skewX(-15) scale(1.480) translate(0,-10)" class="tx" style="stroke-width:1.081">
<path transform="translate(0.00,0)" d="M0.3,4.8 Q0.3,1.8 2.6,1.8 Q4.9,1.8 4.9,4.8 Q4.9,7.8 2.6,7.8 Q0.3,7.8 0.3,4.8 Z M0.5,10.2 L4.5,0"/>
<path transform="translate(6.15,0)" d="M4.6,0 H0.8 L0.3,4.2 Q1.3,3.5 2.4,3.5 Q4.6,3.5 4.6,6.6 Q4.6,10 2.3,10 Q0,10 0,7.6"/>
<path transform="translate(11.90,0)" d="M0.2,9.8 Q4.6,9.8 4.6,4 Q4.6,0 2.3,0 Q0,0 0,3 Q0,5.8 2.3,5.8 Q4.2,5.8 4.6,3.6"/>
<path transform="translate(17.65,0)" d="M0.6,9 V10 L0,12"/>
<path transform="translate(19.80,0)" d="M4.4,0.2 Q0,0.2 0,6 Q0,10 2.3,10 Q4.6,10 4.6,7 Q4.6,4.2 2.3,4.2 Q0.4,4.2 0,6.4"/>
</g>
<line class="t" x1="558.75" y1="741.00" x2="558.75" y2="865.00"/>
<line class="t" x1="717.75" y1="676.00" x2="717.75" y2="865.00"/>
<line class="t" x1="558.75" y1="861.30" x2="717.75" y2="861.30"/>
<path class="f" d="M558.75,861.30 L567.75,860.00 L567.75,862.60 Z"/>
<path class="f" d="M717.75,861.30 L708.75,862.60 L708.75,860.00 Z"/>
<g transform="translate(623.50,855.20) rotate(0) skewX(-15) scale(1.440) translate(0,-10)" class="tx" style="stroke-width:1.111">
<path transform="translate(0.00,0)" d="M0.3,4.8 Q0.3,1.8 2.6,1.8 Q4.9,1.8 4.9,4.8 Q4.9,7.8 2.6,7.8 Q0.3,7.8 0.3,4.8 Z M0.5,10.2 L4.5,0"/>
<path transform="translate(6.10,0)" d="M2.3,4.5 Q0.4,4.5 0.4,2.2 Q0.4,0 2.3,0 Q4.2,0 4.2,2.2 Q4.2,4.5 2.3,4.5 Q0,4.5 0,7.3 Q0,10 2.3,10 Q4.6,10 4.6,7.3 Q4.6,4.5 2.3,4.5"/>
<path transform="translate(11.80,0)" d="M4.6,0 H0.8 L0.3,4.2 Q1.3,3.5 2.4,3.5 Q4.6,3.5 4.6,6.6 Q4.6,10 2.3,10 Q0,10 0,7.6"/>
</g>
<line class="tt" x1="638.10" y1="181.00" x2="638.10" y2="271.00"/>
<line class="tt" x1="638.10" y1="458.00" x2="638.10" y2="812.00"/>
<path class="kw" d="M595.6,195.3 Q595.6,193 599,192.1 Q614,188.6 625,187.6 L629,186.2 H648 L651.5,187.6 Q663,188.6 677.2,192.1 Q680.6,193 680.6,195.3 Q680.6,196.9 678.5,196.9 H597.7 Q595.6,196.9 595.6,195.3 Z"/>
<path class="f" d="M625,187.8 L629,186.3 H648 L651.5,187.8 Q638,188.9 625,187.8 Z"/>
<path class="kw" d="M602.75,196.9 V229.5 Q602.75,232.5 606,232.5 H670.3 Q673.5,232.5 673.5,229.5 V196.9"/>
<line class="tt" x1="604.00" y1="228.50" x2="672.50" y2="228.50"/>
<rect class="kw" x="622.50" y="233.00" width="31.10" height="3.40" rx="1"/>
<path class="fk" d="M623.50,236.40 L652.80,236.40 L654.00,237.62 L652.80,238.85 L654.00,240.07 L652.80,241.30 L654.00,242.53 L652.80,243.75 L623.50,243.75 L622.30,242.53 L623.50,241.30 L622.30,240.07 L623.50,238.85 L622.30,237.62 L623.50,236.40 Z"/>
<line class="wl" x1="623.50" y1="238.85" x2="652.80" y2="238.85"/>
<line class="wl" x1="623.50" y1="241.30" x2="652.80" y2="241.30"/>
<path class="kw" d="M618.75,271.5 V246 Q618.75,243.75 621,243.75 H655.3 Q657.5,243.75 657.5,246 V271.5"/>
<path class="k2" d="M606.5,190.6 Q622,188.5 638,188.4 Q654,188.5 669.7,190.6"/>
<line class="tt" x1="638.10" y1="181.00" x2="638.10" y2="271.00"/>
<path class="kw" d="M577.5,271.5 H699 Q701,271.5 701,273.5 V284.3 Q701,286.25 699,286.25 H677.4 V307 C677.4,314 661.4,316 661.4,329 V377.5 C661.4,388 652.7,400 652.7,412 V458 H623.5 V412 C623.5,400 614.75,388 614.75,377.5 V329 C614.75,316 598.75,314 598.75,307 V286.25 H577.5 Q575.4,286.25 575.4,284.3 V273.5 Q575.4,271.5 577.5,271.5 Z"/>
<line class="K" x1="577.00" y1="271.60" x2="699.40" y2="271.60"/>
<line class="tt" x1="585.60" y1="272.50" x2="585.60" y2="285.50"/>
<line class="tt" x1="690.60" y1="272.50" x2="690.60" y2="285.50"/>
<line class="tt" x1="597.00" y1="272.50" x2="597.00" y2="285.50"/>
<line class="tt" x1="679.20" y1="272.50" x2="679.20" y2="285.50"/>
<line class="K" x1="637.90" y1="271.50" x2="637.90" y2="458.00"/>
<line class="t" x1="615.50" y1="322.50" x2="660.80" y2="322.50"/>
<line class="t" x1="615.50" y1="331.90" x2="660.80" y2="331.90"/>
<line class="t" x1="615.50" y1="363.75" x2="660.80" y2="363.75"/>
<line class="t" x1="615.50" y1="376.25" x2="660.80" y2="376.25"/>
<path class="k" d="M661.4,322.5 H664 Q665.4,322.5 665.4,324 V343.5 Q665.4,345.5 663.5,345.5 H661.4"/>
<path class="kw" d="M556.9,352.5 L603,339.4 V329.4 L553,342.5 Z"/>
<path class="f" d="M555.4,345 L603,332.4 V337.8 L556.5,350.2 Z"/>
<path class="kw" d="M614.4,321.5 Q606,321.5 604.2,326.5 V340.8 H614.4"/>
<path class="k" d="M614.4,327 Q609,327 609,331 Q609,335 614.4,335"/>
<path class="kw" d="M553,342.5 L556.9,352.5 Q555.5,361 547.5,365.6 V348"/>
<ellipse class="kw" cx="549.30" cy="343.20" rx="3.90" ry="6.30" transform="rotate(-17 549.30 343.20)"/>
<path class="kw" d="M525,345.6 Q523,347.8 524.2,351.5 L528.5,361.5 Q530.5,365 533.5,365.6 V349 Q531,344.5 528.2,344.2 Q526.2,344 525,345.6 Z"/>
<path class="kw" d="M533.75,368 V349.5 Q533.75,342.6 540.6,342.6 Q547.5,342.6 547.5,349.5 V368 Z"/>
<line class="m" x1="526.50" y1="355.30" x2="533.50" y2="354.00"/>
<line class="m" x1="547.60" y1="349.20" x2="553.50" y2="347.80"/>
<rect class="mw" x="533.40" y="368.00" width="15.00" height="4.80" rx="1.4"/>
<line class="tt" x1="534.50" y1="370.20" x2="547.30" y2="370.20"/>
<line class="k" x1="535.00" y1="372.50" x2="535.00" y2="733.00"/>
<line class="k" x1="546.90" y1="372.50" x2="546.90" y2="733.00"/>
<line class="tt" x1="537.30" y1="373.00" x2="537.30" y2="421.00"/>
<line class="tt" x1="544.60" y1="373.00" x2="544.60" y2="421.00"/>
<rect class="fk" x="535.00" y="422.15" width="11.90" height="3.20" rx="0"/>
<rect class="fk" x="535.00" y="431.52" width="11.90" height="3.20" rx="0"/>
<rect class="fk" x="535.00" y="440.90" width="11.90" height="3.20" rx="0"/>
<rect class="fk" x="535.00" y="450.27" width="11.90" height="3.20" rx="0"/>
<rect class="fk" x="535.00" y="459.65" width="11.90" height="3.20" rx="0"/>
<rect class="fk" x="535.00" y="469.02" width="11.90" height="3.20" rx="0"/>
<rect class="fk" x="535.00" y="478.40" width="11.90" height="3.20" rx="0"/>
<rect class="fk" x="535.00" y="487.77" width="11.90" height="3.20" rx="0"/>
<rect class="fk" x="535.00" y="497.15" width="11.90" height="3.20" rx="0"/>
<rect class="fk" x="535.00" y="506.52" width="11.90" height="3.20" rx="0"/>
<rect class="fk" x="535.00" y="515.90" width="11.90" height="3.20" rx="0"/>
<rect class="fk" x="535.00" y="525.27" width="11.90" height="3.20" rx="0"/>
<rect class="fk" x="535.00" y="534.65" width="11.90" height="3.20" rx="0"/>
<rect class="fk" x="535.00" y="544.02" width="11.90" height="3.20" rx="0"/>
<rect class="fk" x="535.00" y="553.40" width="11.90" height="3.20" rx="0"/>
<rect class="fk" x="535.00" y="562.77" width="11.90" height="3.20" rx="0"/>
<rect class="fk" x="535.00" y="572.15" width="11.90" height="3.20" rx="0"/>
<rect class="fk" x="535.00" y="581.52" width="11.90" height="3.20" rx="0"/>
<rect class="fk" x="535.00" y="590.90" width="11.90" height="3.20" rx="0"/>
<rect class="fk" x="535.00" y="600.27" width="11.90" height="3.20" rx="0"/>
<rect class="fk" x="535.00" y="609.65" width="11.90" height="3.20" rx="0"/>
<rect class="fk" x="535.00" y="619.02" width="11.90" height="3.20" rx="0"/>
<rect class="fk" x="535.00" y="628.40" width="11.90" height="3.20" rx="0"/>
<rect class="fk" x="535.00" y="637.77" width="11.90" height="3.20" rx="0"/>
<rect class="fk" x="535.00" y="647.15" width="11.90" height="3.20" rx="0"/>
<rect class="fk" x="535.00" y="656.52" width="11.90" height="3.20" rx="0"/>
<rect class="fk" x="535.00" y="665.90" width="11.90" height="3.20" rx="0"/>
<rect class="fk" x="535.00" y="675.27" width="11.90" height="3.20" rx="0"/>
<rect class="fk" x="535.00" y="684.65" width="11.90" height="3.20" rx="0"/>
<rect class="fk" x="535.00" y="694.02" width="11.90" height="3.20" rx="0"/>
<rect class="fk" x="535.00" y="703.40" width="11.90" height="3.20" rx="0"/>
<rect class="fk" x="535.00" y="712.77" width="11.90" height="3.20" rx="0"/>
<rect class="fk" x="535.00" y="722.15" width="11.90" height="3.20" rx="0"/>
<rect class="fk" x="535.00" y="731.52" width="11.90" height="3.20" rx="0"/>
<path class="kw" d="M600.6,397.5 V410.5 Q600.8,419.5 611.5,422 H623.5 V412 Q623.5,405 619.2,395 L618.6,392.5"/>
<path class="kw" d="M675.6,397.5 V410.5 Q675.4,419.5 664.7,422 H652.7 V412 Q652.7,405 657,395 L657.6,392.5"/>
<path class="kw" d="M599,392.5 H618.2 L619.6,397.5 H599 Q597.4,397.5 597.4,395 Q597.4,392.5 599,392.5 Z"/>
<path class="kw" d="M677.2,392.5 H658 L656.6,397.5 H677.2 Q678.8,397.5 678.8,395 Q678.8,392.5 677.2,392.5 Z"/>
<line class="tt" x1="603.00" y1="399.50" x2="620.00" y2="399.50"/>
<line class="tt" x1="656.00" y1="399.50" x2="673.50" y2="399.50"/>
<line class="k" x1="610.60" y1="423.80" x2="623.50" y2="423.80"/>
<line class="k" x1="652.70" y1="423.80" x2="665.60" y2="423.80"/>
<rect class="kw" x="614.00" y="425.00" width="9.50" height="5.00" rx="0.8"/>
<rect class="kw" x="610.60" y="431.00" width="12.90" height="3.50" rx="1.2"/>
<rect class="kw" x="614.00" y="435.30" width="9.50" height="4.70" rx="0.8"/>
<path class="k" d="M604.4,446.25 V442.5 H623.5"/>
<line class="m" x1="612.00" y1="440.30" x2="612.00" y2="442.50"/>
<path class="kw" d="M652.7,424 H662.5 V440.5 H652.7"/>
<line class="m" x1="655.50" y1="424.00" x2="655.50" y2="440.50"/>
<line class="m" x1="658.60" y1="424.00" x2="658.60" y2="440.50"/>
<rect class="m" x="654.50" y="428.50" width="3.50" height="4.00" rx="0.4"/>
<path class="k" d="M652.7,442.5 H671.8 V446.25"/>
<line class="m" x1="664.00" y1="440.50" x2="664.00" y2="442.50"/>
<path class="kw" d="M612.5,425.2 L533,430.2 Q530.3,430.6 530.3,432.3 Q530.3,434 533,434.4 L612.5,439.4"/>
<line class="m" x1="531.50" y1="431.40" x2="611.00" y2="429.30"/>
<line class="m" x1="531.50" y1="433.40" x2="611.00" y2="433.60"/>
<path class="kw" d="M602.5,446.25 H595 Q592.5,446.25 592.5,449 V464.5 Q592.5,466.9 595,466.9 H681.2 Q683.75,466.9 683.75,464.5 V449 Q683.75,446.25 681.2,446.25 H673.7"/>
<path class="k" d="M602.5,463 V446.25 H623.5 M652.7,446.25 H673.7 V463"/>
<line class="K" x1="598.75" y1="463.20" x2="677.50" y2="463.20"/>
<line class="tt" x1="594.50" y1="448.00" x2="594.50" y2="465.00"/>
<line class="tt" x1="681.60" y1="448.00" x2="681.60" y2="465.00"/>
<path class="k" d="M610.6,467 V474.4 M623.5,467 V474.4 M652.7,467 V474.4 M665.6,467 V474.4"/>
<rect class="w" x="623.50" y="440.00" width="29.20" height="18.00" rx="0"/>
<line class="k" x1="623.50" y1="440.00" x2="623.50" y2="458.00"/>
<line class="k" x1="652.70" y1="440.00" x2="652.70" y2="458.00"/>
<line class="K" x1="637.90" y1="438.00" x2="637.90" y2="458.00"/>
<rect class="kw" x="623.50" y="458.00" width="29.20" height="20.75" rx="0"/>
<text class="b" x="626.4" y="477.6" font-size="6.6">1</text>
<path class="k" d="M561,491.3 V657.5 L566.25,662.5 V673.75"/>
<path class="k" d="M678,481 V639.4 H706 Q710,639.4 710,643.5 V675"/>
<line class="tt" x1="672.00" y1="481.00" x2="672.00" y2="652.00"/>
<line class="tt" x1="674.60" y1="481.00" x2="674.60" y2="655.00"/>
<path class="g" d="M563,656.9 H670 Q676,656.9 676,650"/>
<path class="g" d="M566,661.9 H672 Q678,661.6 678,655"/>
<path class="m" d="M561.5,474.4 H623.5 M652.7,474.4 H680"/>
<path class="K" d="M623.5,480.4 H561 Q559.3,480.4 559.3,478.8 Q559.3,477 561,476.9 H623.5 M652.7,476.9 H680.5 M657,480.4 H680.5"/>
<line class="k" x1="561.60" y1="480.60" x2="561.60" y2="489.40"/>
<path class="K" d="M560.5,489.4 H583.5 M560.5,491.25 H583.5"/>
<rect class="kw" x="583.75" y="483.00" width="35.00" height="22.60" rx="1.5"/>
<rect class="fg" x="587.50" y="487.00" width="16.25" height="5.50" rx="2.6"/>
<rect class="fg" x="607.50" y="487.00" width="10.50" height="5.50" rx="2.6"/>
<rect class="kw" x="587.50" y="497.00" width="16.25" height="5.00" rx="2.4"/>
<rect class="kw" x="608.00" y="497.00" width="10.00" height="5.00" rx="2.4"/>
<path class="kw" d="M613,509.7 Q613,508.6 616,508.6 H660 Q663.5,508.8 663.5,510.4 Q663.5,511.8 660,511.8 H616 Q613,511.5 613,509.7 Z"/>
<rect class="kw" x="618.75" y="478.75" width="38.25" height="32.50" rx="0"/>
<line class="K" x1="634.90" y1="487.60" x2="641.30" y2="487.60"/>
<line class="K" x1="631.50" y1="491.00" x2="644.70" y2="491.00"/>
<line class="K" x1="628.50" y1="494.40" x2="647.70" y2="494.40"/>
<line class="K" x1="625.50" y1="497.80" x2="650.70" y2="497.80"/>
<line class="K" x1="622.70" y1="501.20" x2="653.50" y2="501.20"/>
<line class="K" x1="620.50" y1="504.60" x2="655.70" y2="504.60"/>
<path class="m" d="M638.1,483.5 L619.5,507.6 H656.7 Z"/>
<line class="k" x1="638.10" y1="478.75" x2="638.10" y2="511.00"/>
<path class="f" d="M638.10,481.20 L639.50,484.70 L636.70,484.70 Z"/>
<rect class="kw" x="657.50" y="483.00" width="5.00" height="22.00" rx="2.3"/>
<line class="K" x1="663.00" y1="489.50" x2="678.00" y2="489.50"/>
<path class="kw" d="M623.3,511.5 V723.5 Q623.3,729.4 629,729.4 H647.2 Q653.1,729.4 653.1,723.5 V511.5"/>
<rect class="kw" x="632.50" y="515.60" width="18.75" height="5.00" rx="1.6"/>
<line class="g" x1="634.00" y1="519.30" x2="650.00" y2="519.30"/>
<rect class="kw" x="632.50" y="524.98" width="18.75" height="5.00" rx="1.6"/>
<line class="g" x1="634.00" y1="528.68" x2="650.00" y2="528.68"/>
<rect class="kw" x="632.50" y="534.35" width="18.75" height="5.00" rx="1.6"/>
<line class="g" x1="634.00" y1="538.05" x2="650.00" y2="538.05"/>
<rect class="kw" x="632.50" y="543.73" width="18.75" height="5.00" rx="1.6"/>
<line class="g" x1="634.00" y1="547.43" x2="650.00" y2="547.43"/>
<rect class="kw" x="632.50" y="553.10" width="18.75" height="5.00" rx="1.6"/>
<line class="g" x1="634.00" y1="556.80" x2="650.00" y2="556.80"/>
<rect class="kw" x="632.50" y="562.48" width="18.75" height="5.00" rx="1.6"/>
<line class="g" x1="634.00" y1="566.18" x2="650.00" y2="566.18"/>
<rect class="kw" x="632.50" y="571.85" width="18.75" height="5.00" rx="1.6"/>
<line class="g" x1="634.00" y1="575.55" x2="650.00" y2="575.55"/>
<rect class="kw" x="632.50" y="581.23" width="18.75" height="5.00" rx="1.6"/>
<line class="g" x1="634.00" y1="584.93" x2="650.00" y2="584.93"/>
<rect class="kw" x="632.50" y="590.60" width="18.75" height="5.00" rx="1.6"/>
<line class="g" x1="634.00" y1="594.30" x2="650.00" y2="594.30"/>
<rect class="kw" x="632.50" y="599.98" width="18.75" height="5.00" rx="1.6"/>
<line class="g" x1="634.00" y1="603.68" x2="650.00" y2="603.68"/>
<rect class="kw" x="632.50" y="609.35" width="18.75" height="5.00" rx="1.6"/>
<line class="g" x1="634.00" y1="613.05" x2="650.00" y2="613.05"/>
<rect class="kw" x="632.50" y="618.73" width="18.75" height="5.00" rx="1.6"/>
<line class="g" x1="634.00" y1="622.43" x2="650.00" y2="622.43"/>
<rect class="kw" x="632.50" y="628.10" width="18.75" height="5.00" rx="1.6"/>
<line class="g" x1="634.00" y1="631.80" x2="650.00" y2="631.80"/>
<rect class="kw" x="632.50" y="637.48" width="18.75" height="5.00" rx="1.6"/>
<line class="g" x1="634.00" y1="641.18" x2="650.00" y2="641.18"/>
<rect class="kw" x="632.50" y="646.85" width="18.75" height="5.00" rx="1.6"/>
<line class="g" x1="634.00" y1="650.55" x2="650.00" y2="650.55"/>
<rect class="kw" x="632.50" y="656.23" width="18.75" height="5.00" rx="1.6"/>
<line class="g" x1="634.00" y1="659.93" x2="650.00" y2="659.93"/>
<rect class="kw" x="632.50" y="665.60" width="18.75" height="5.00" rx="1.6"/>
<line class="g" x1="634.00" y1="669.30" x2="650.00" y2="669.30"/>
<rect class="kw" x="632.50" y="674.98" width="18.75" height="5.00" rx="1.6"/>
<line class="g" x1="634.00" y1="678.68" x2="650.00" y2="678.68"/>
<rect class="kw" x="632.50" y="684.35" width="18.75" height="5.00" rx="1.6"/>
<line class="g" x1="634.00" y1="688.05" x2="650.00" y2="688.05"/>
<rect class="kw" x="632.50" y="693.73" width="18.75" height="5.00" rx="1.6"/>
<line class="g" x1="634.00" y1="697.43" x2="650.00" y2="697.43"/>
<rect class="kw" x="632.50" y="703.10" width="18.75" height="5.00" rx="1.6"/>
<line class="g" x1="634.00" y1="706.80" x2="650.00" y2="706.80"/>
<rect class="kw" x="632.50" y="712.48" width="18.75" height="5.00" rx="1.6"/>
<line class="g" x1="634.00" y1="716.18" x2="650.00" y2="716.18"/>
<text class="b" x="631.6" y="514.83" font-size="6.6" text-anchor="end" textLength="3.9" lengthAdjust="spacingAndGlyphs">5</text>
<text class="b" x="631.6" y="524.20" font-size="6.6" text-anchor="end" textLength="3.9" lengthAdjust="spacingAndGlyphs">6</text>
<text class="b" x="631.6" y="533.58" font-size="6.6" text-anchor="end" textLength="3.9" lengthAdjust="spacingAndGlyphs">7</text>
<text class="b" x="631.6" y="542.95" font-size="6.6" text-anchor="end" textLength="3.9" lengthAdjust="spacingAndGlyphs">8</text>
<text class="b" x="631.6" y="552.33" font-size="6.6" text-anchor="end" textLength="3.9" lengthAdjust="spacingAndGlyphs">9</text>
<text class="b" x="631.6" y="561.70" font-size="6.6" text-anchor="end" textLength="7.4" lengthAdjust="spacingAndGlyphs">10</text>
<text class="b" x="631.6" y="571.08" font-size="6.6" text-anchor="end" textLength="7.4" lengthAdjust="spacingAndGlyphs">11</text>
<text class="b" x="631.6" y="580.45" font-size="6.6" text-anchor="end" textLength="7.4" lengthAdjust="spacingAndGlyphs">12</text>
<text class="b" x="631.6" y="589.83" font-size="6.6" text-anchor="end" textLength="7.4" lengthAdjust="spacingAndGlyphs">13</text>
<text class="b" x="631.6" y="599.20" font-size="6.6" text-anchor="end" textLength="7.4" lengthAdjust="spacingAndGlyphs">14</text>
<text class="b" x="631.6" y="608.58" font-size="6.6" text-anchor="end" textLength="7.4" lengthAdjust="spacingAndGlyphs">15</text>
<text class="b" x="631.6" y="617.95" font-size="6.6" text-anchor="end" textLength="7.4" lengthAdjust="spacingAndGlyphs">16</text>
<text class="b" x="631.6" y="627.33" font-size="6.6" text-anchor="end" textLength="7.4" lengthAdjust="spacingAndGlyphs">17</text>
<text class="b" x="631.6" y="636.70" font-size="6.6" text-anchor="end" textLength="7.4" lengthAdjust="spacingAndGlyphs">18</text>
<text class="b" x="631.6" y="646.08" font-size="6.6" text-anchor="end" textLength="7.4" lengthAdjust="spacingAndGlyphs">19</text>
<text class="b" x="631.6" y="655.45" font-size="6.6" text-anchor="end" textLength="7.4" lengthAdjust="spacingAndGlyphs">20</text>
<text class="b" x="631.6" y="664.83" font-size="6.6" text-anchor="end" textLength="7.4" lengthAdjust="spacingAndGlyphs">21</text>
<text class="b" x="631.6" y="674.20" font-size="6.6" text-anchor="end" textLength="7.4" lengthAdjust="spacingAndGlyphs">22</text>
<text class="b" x="631.6" y="683.58" font-size="6.6" text-anchor="end" textLength="7.4" lengthAdjust="spacingAndGlyphs">23</text>
<text class="b" x="631.6" y="692.95" font-size="6.6" text-anchor="end" textLength="7.4" lengthAdjust="spacingAndGlyphs">24</text>
<path class="k" d="M563.2,546.4 C564.5,538 572,534.6 578.5,537 C585,539.5 591,544 594.6,548"/>
<path class="k" d="M567.4,547 C571,541.3 576,540 581,541 C586,542.2 590,545 592.6,547.8"/>
<path class="fk" d="M562.2,547.8 H592.3 L588.3,555 L590.3,561.7 H562.2 Z"/>
<clipPath id="lg3"><path d="M562.2,547.8 H592.3 L588.3,555 L590.3,561.7 H562.2 Z"/></clipPath>
<g clip-path="url(#lg3)">
<path class="w" d="M563.6,561 L565.4,550 H566.8 L565.4,561 Z M569.6,561 L571.4,549.6 H573 L571.4,561 Z M573.4,561 L575.2,549.6 H576.6 L575,561 Z M576.8,561.2 L586.4,549.2 H590 L580.6,561.2 Z M582.8,561.2 L587.4,555.4 L588.6,557 L585.6,561.2 Z"/>
</g>
<line class="k" x1="562.30" y1="563.40" x2="589.60" y2="563.40"/>
<path class="f" d="M562.3,563 H572.5 L570,566.2 L562.3,566.6 Z"/>
<path class="k" d="M564.3,567.4 C565.5,572.3 569.4,574.2 574.4,572.4 C580.4,570.3 586,567 589.8,564"/>
<path class="m" d="M565.6,566.8 C569,568.8 573,567.8 576.4,566"/>
<path class="k" d="M688.75,473 Q689,469.4 693.4,469.4 Q698,469.4 698,473"/>
<rect class="kw" x="680.60" y="473.00" width="21.90" height="9.00" rx="2"/>
<line class="m" x1="682.00" y1="479.40" x2="701.00" y2="479.40"/>
<line class="k" x1="689.40" y1="482.00" x2="689.40" y2="498.00"/>
<line class="k" x1="693.75" y1="482.00" x2="693.75" y2="538.75"/>
<line class="k" x1="698.00" y1="482.00" x2="698.00" y2="538.75"/>
<line class="tt" x1="695.80" y1="483.00" x2="695.80" y2="538.00"/>
<path class="k" d="M678.6,504 Q688,502.5 689.4,494"/>
<path class="kw" d="M678.6,505.6 H686.5 Q689.4,505.6 689.4,508.5 V516.5 Q689.4,519.4 686.5,519.4 H678.6"/>
<circle class="k" cx="682.40" cy="512.30" r="2.50"/>
<path class="k" d="M678.6,520.5 Q688.5,522 689.2,532 V538.5"/>
<rect class="kw" x="684.00" y="538.75" width="39.50" height="93.50" rx="2"/>
<line class="tt" x1="693.75" y1="540.00" x2="693.75" y2="631.50"/>
<line class="tt" x1="696.25" y1="540.00" x2="696.25" y2="631.50"/>
<line class="tt" x1="700.00" y1="540.00" x2="700.00" y2="631.50"/>
<line class="tt" x1="703.75" y1="540.00" x2="703.75" y2="631.50"/>
<rect class="kw" x="688.00" y="632.50" width="14.00" height="3.75" rx="1"/>
<rect class="kw" x="689.60" y="636.25" width="8.40" height="3.15" rx="0.5"/>
<text class="b b2" x="579.2" y="675.2" font-size="9.4" textLength="12.8" lengthAdjust="spacingAndGlyphs">MIN</text>
<text class="b b2" x="681" y="675.2" font-size="9.4" textLength="17" lengthAdjust="spacingAndGlyphs">MAX</text>
<path class="fk" d="M559.5,674.3 Q575,672.6 582.5,674.6 V678.6 H559.5 Q557.6,676.5 559.5,674.3 Z"/>
<path class="fk" d="M716.7,674.3 Q708,672.6 700,674.6 V678.6 H716.7 Q718.6,676.5 716.7,674.3 Z"/>
<path class="k" d="M582.5,678 Q595,679.3 607.5,678.75 Q616,677.5 622.8,669.5"/>
<line class="k" x1="558.75" y1="678.75" x2="623.00" y2="678.75"/>
<line class="k" x1="653.50" y1="678.75" x2="715.00" y2="678.75"/>
<path class="k" d="M561.9,678.75 V691.25 M715,678.75 V691.25"/>
<line class="g" x1="563.00" y1="689.40" x2="623.00" y2="689.40"/>
<line class="g" x1="653.50" y1="689.40" x2="713.00" y2="689.40"/>
<line class="K" x1="561.90" y1="691.40" x2="623.00" y2="691.40"/>
<line class="K" x1="653.50" y1="691.40" x2="714.40" y2="691.40"/>
<path class="k" d="M561.9,692.5 L558.9,736 M713.9,692.5 L717.4,736"/>
<line class="k" x1="566.90" y1="692.00" x2="566.90" y2="731.50"/>
<line class="k" x1="709.30" y1="692.00" x2="709.30" y2="731.50"/>
<line class="k" x1="570.60" y1="692.00" x2="570.60" y2="731.50"/>
<line class="k" x1="705.60" y1="692.00" x2="705.60" y2="731.50"/>
<line class="k" x1="611.25" y1="692.00" x2="611.25" y2="725.50"/>
<line class="k" x1="664.95" y1="692.00" x2="664.95" y2="725.50"/>
<line class="k" x1="623.30" y1="692.00" x2="623.30" y2="725.00"/>
<line class="k" x1="653.10" y1="692.00" x2="653.10" y2="725.00"/>
<rect class="fk" x="581.25" y="725.60" width="113.75" height="5.70" rx="2.4"/>
<line class="wl" x1="584.00" y1="728.40" x2="692.00" y2="728.40"/>
<path class="kw" d="M623.3,700 V723.5 Q623.3,729.4 629,729.4 H647.2 Q653.1,729.4 653.1,723.5 V700"/>
<rect class="kw" x="632.50" y="703.10" width="18.75" height="5.00" rx="1.6"/>
<line class="g" x1="634.00" y1="706.80" x2="650.00" y2="706.80"/>
<rect class="kw" x="632.50" y="712.48" width="18.75" height="5.00" rx="1.6"/>
<line class="g" x1="634.00" y1="716.18" x2="650.00" y2="716.18"/>
<rect class="Kw" x="558.75" y="732.00" width="158.75" height="9.25" rx="2.4"/>
<line class="g" x1="562.00" y1="738.60" x2="714.00" y2="738.60"/>
<path class="kw" d="M562.5,741.25 V750.6 H714.4 V741.25"/>
<line class="K" x1="562.50" y1="750.60" x2="714.40" y2="750.60"/>
<path class="fk" d="M583.20,751.20 L693.00,751.20 L694.20,752.68 L693.00,754.15 L694.20,755.62 L693.00,757.10 L694.20,758.58 L693.00,760.05 L694.20,761.52 L693.00,763.00 L583.20,763.00 L582.00,761.52 L583.20,760.05 L582.00,758.58 L583.20,757.10 L582.00,755.62 L583.20,754.15 L582.00,752.68 L583.20,751.20 Z"/>
<line class="wl" x1="583.20" y1="754.15" x2="693.00" y2="754.15"/>
<line class="wl" x1="583.20" y1="757.10" x2="693.00" y2="757.10"/>
<line class="wl" x1="583.20" y1="760.05" x2="693.00" y2="760.05"/>
<path class="kw" d="M565,769.4 Q564.6,783.5 576,787.5 H700.2 Q711.6,783.5 711.2,769.4 Z"/>
<rect class="kw" x="563.00" y="763.75" width="150.20" height="5.65" rx="1.6"/>
<line class="tt" x1="568.00" y1="772.60" x2="708.00" y2="772.60"/>
<path class="k" d="M566.3,770 V779 Q567.5,783.6 575.5,785.4 V770"/>
<path class="k" d="M709.9,770 V779 Q708.7,783.6 700.7,785.4 V770"/>
<path class="k" d="M585.6,770 V781 Q586.5,785.4 596.8,786.4 V770"/>
<path class="k" d="M690.6,770 V781 Q689.7,785.4 679.4,786.4 V770"/>
<path class="k" d="M634.60,770.00 V782.90 Q634.60,786.40 638.10,786.40 Q641.60,786.40 641.60,782.90 V770.00"/>
<path class="fk" d="M583.20,788.75 L693.00,788.75 L694.20,790.16 L693.00,791.56 L694.20,792.97 L693.00,794.38 L694.20,795.78 L693.00,797.19 L694.20,798.59 L693.00,800.00 L583.20,800.00 L582.00,798.59 L583.20,797.19 L582.00,795.78 L583.20,794.38 L582.00,792.97 L583.20,791.56 L582.00,790.16 L583.20,788.75 Z"/>
<line class="wl" x1="583.20" y1="791.56" x2="693.00" y2="791.56"/>
<line class="wl" x1="583.20" y1="794.38" x2="693.00" y2="794.38"/>
<line class="wl" x1="583.20" y1="797.19" x2="693.00" y2="797.19"/>
<rect class="kw" x="585.00" y="800.00" width="106.25" height="5.00" rx="0.6"/>
<line class="tt" x1="638.10" y1="732.00" x2="638.10" y2="812.00"/>
<line class="t" x1="526.25" y1="408.10" x2="724.00" y2="408.10"/>
<path class="f" d="M526.25,408.10 L535.25,406.80 L535.25,409.40 Z"/>
<path class="f" d="M724.00,408.10 L715.00,409.40 L715.00,406.80 Z"/>
</g>
<g id="p4">
<line class="tt" x1="894.40" y1="181.00" x2="894.40" y2="420.00"/>
<line class="tt" x1="894.40" y1="732.00" x2="894.40" y2="812.00"/>
<path class="kw" d="M851.9,195.3 Q851.9,193 855.3,192.1 Q870,188.6 882,187.7 L905,187.3 Q908,185.8 912,186 Q916,186.4 917,188.2 Q926,189.6 933.5,192.1 Q936.9,193 936.9,195.3 Q936.9,196.9 934.8,196.9 H854 Q851.9,196.9 851.9,195.3 Z"/>
<path class="f" d="M882,187.9 Q894,186.4 905,187.4 Q908,185.9 912,186.1 Q916,186.5 917,188.3 Q900,189.4 882,187.9 Z"/>
<path class="kw" d="M859.4,196.9 V229.5 Q859.4,232.5 862.6,232.5 H926.5 Q929.75,232.5 929.75,229.5 V196.9"/>
<line class="tt" x1="860.60" y1="228.00" x2="928.60" y2="228.00"/>
<line class="t" x1="860.40" y1="221.60" x2="928.90" y2="221.60"/>
<path class="f" d="M860.40,221.60 L869.40,220.30 L869.40,222.90 Z"/>
<path class="f" d="M928.90,221.60 L919.90,222.90 L919.90,220.30 Z"/>
<g transform="translate(879.60,215.00) rotate(0) skewX(-15) scale(1.440) translate(0,-10)" class="tx" style="stroke-width:1.111">
<path transform="translate(0.00,0)" d="M0.3,4.8 Q0.3,1.8 2.6,1.8 Q4.9,1.8 4.9,4.8 Q4.9,7.8 2.6,7.8 Q0.3,7.8 0.3,4.8 Z M0.5,10.2 L4.5,0"/>
<path transform="translate(6.10,0)" d="M0.2,2.4 Q0.4,0 2.3,0 Q4.4,0 4.4,2.3 Q4.4,4.4 2,4.5 Q4.6,4.6 4.6,7.2 Q4.6,10 2.3,10 Q0,10 0,7.6"/>
<path transform="translate(11.80,0)" d="M0,0 H4.6 L1.4,10"/>
</g>
<rect class="kw" x="879.40" y="233.00" width="30.20" height="3.40" rx="1"/>
<path class="fk" d="M880.20,236.40 L909.00,236.40 L910.20,237.62 L909.00,238.85 L910.20,240.07 L909.00,241.30 L910.20,242.53 L909.00,243.75 L880.20,243.75 L879.00,242.53 L880.20,241.30 L879.00,240.07 L880.20,238.85 L879.00,237.62 L880.20,236.40 Z"/>
<line class="wl" x1="880.20" y1="238.85" x2="909.00" y2="238.85"/>
<line class="wl" x1="880.20" y1="241.30" x2="909.00" y2="241.30"/>
<path class="kw" d="M874.75,271.5 V246 Q874.75,243.75 877,243.75 H911.6 Q913.75,243.75 913.75,246 V271.5"/>
<path class="k2" d="M862.8,190.6 Q878,188.6 894.4,188.5 Q910,188.6 926,190.6"/>
<line class="tt" x1="894.40" y1="181.00" x2="894.40" y2="271.00"/>
<path class="kw" d="M835,285.75 V321 Q835,325.5 833,329 L812.4,364.5 Q810.3,368.5 810.3,373 V478 H818 V375 Q818,371.5 819.8,368.2 L840.6,330.6 Q842.5,327.2 842.5,323.5 V307.6 H850 V304.5 H840.8 V287"/>
<path class="kw" d="M953.8,285.75 V321 Q953.8,325.5 955.8,329 L976.4,364.5 Q978.5,368.5 978.5,373 V478 H970.8 V375 Q970.8,371.5 969.0,368.2 L948.1999999999999,330.6 Q946.3,327.2 946.3,323.5 V307.6 H938.8 V304.5 H948.0 V287"/>
<line class="tt" x1="814.00" y1="372.00" x2="814.00" y2="476.00"/>
<line class="tt" x1="974.80" y1="372.00" x2="974.80" y2="476.00"/>
<path class="kw" d="M836.5,271.4 H952.4 Q953.9,271.4 953.9,273 V285.75 H835 V273 Q835,271.4 836.5,271.4 Z"/>
<line class="K" x1="836.00" y1="271.50" x2="953.00" y2="271.50"/>
<line class="tt" x1="840.50" y1="272.50" x2="840.50" y2="285.00"/>
<line class="tt" x1="948.30" y1="272.50" x2="948.30" y2="285.00"/>
<line class="tt" x1="853.00" y1="272.50" x2="853.00" y2="285.00"/>
<line class="tt" x1="935.80" y1="272.50" x2="935.80" y2="285.00"/>
<line class="tt" x1="859.50" y1="272.50" x2="859.50" y2="285.00"/>
<line class="tt" x1="929.30" y1="272.50" x2="929.30" y2="285.00"/>
<path class="kw" d="M863,285.75 L867.5,280.75 H921.4 L925.9,285.75"/>
<path class="f" d="M866,285 L868.6,282 H920.3 L922.9,285 Z"/>
<rect class="w" x="874.00" y="282.60" width="2.40" height="2.60" rx="0"/>
<rect class="w" x="887.60" y="282.60" width="2.40" height="2.60" rx="0"/>
<rect class="w" x="898.80" y="282.60" width="2.40" height="2.60" rx="0"/>
<rect class="w" x="912.60" y="282.60" width="2.40" height="2.60" rx="0"/>
<line class="k" x1="835.00" y1="285.75" x2="953.90" y2="285.75"/>
<rect class="kw" x="841.90" y="287.00" width="105.00" height="16.25" rx="0.6"/>
<line class="k" x1="841.90" y1="295.75" x2="946.90" y2="295.75"/>
<line class="K" x1="841.90" y1="303.25" x2="946.90" y2="303.25"/>
<line class="m" x1="843.60" y1="287.00" x2="843.60" y2="303.00"/>
<line class="m" x1="945.20" y1="287.00" x2="945.20" y2="303.00"/>
<line class="k" x1="868.75" y1="303.50" x2="868.75" y2="323.00"/>
<line class="k" x1="920.05" y1="303.50" x2="920.05" y2="323.00"/>
<line class="k" x1="871.25" y1="303.50" x2="871.25" y2="323.00"/>
<line class="k" x1="917.55" y1="303.50" x2="917.55" y2="323.00"/>
<rect class="kw" x="873.75" y="312.60" width="41.25" height="11.40" rx="0.8"/>
<rect class="kw" x="865.60" y="324.00" width="57.60" height="16.75" rx="0.6"/>
<rect class="m" x="876.80" y="314.50" width="5.80" height="8.10" rx="0.3"/>
<rect class="m" x="906.20" y="314.50" width="5.80" height="8.10" rx="0.3"/>
<rect class="kw" x="883.50" y="314.20" width="21.80" height="7.60" rx="0.6"/>
<path class="kw" d="M877.5,322.8 H911.3 V340.2 H877.5 Z"/>
<line class="k" x1="869.50" y1="326.00" x2="869.50" y2="339.00"/>
<line class="k" x1="919.30" y1="326.00" x2="919.30" y2="339.00"/>
<rect class="m" x="871.00" y="330.50" width="4.00" height="3.50" rx="0.3"/>
<rect class="m" x="913.80" y="330.50" width="4.00" height="3.50" rx="0.3"/>
<rect class="m" x="871.00" y="336.00" width="4.00" height="3.00" rx="0.3"/>
<rect class="m" x="913.80" y="336.00" width="4.00" height="3.00" rx="0.3"/>
<line class="tt" x1="879.50" y1="329.00" x2="909.30" y2="329.00"/>
<rect class="K" x="879.00" y="332.60" width="13.60" height="3.60" rx="0.3"/>
<rect class="K" x="896.40" y="332.60" width="13.40" height="3.60" rx="0.3"/>
<rect class="kw" x="891.40" y="337.40" width="6.20" height="4.60" rx="0.3"/>
<path class="k" d="M882.5,341 H906.3 M884,341 L885.4,344 M904.8,341 L903.4,344"/>
<path class="kw" d="M885.4,342 V367 Q885.4,372 890,372 H898.8 Q903.4,372 903.4,367 V342"/>
<path class="k" d="M890,342.5 V366 Q890,368.4 892.4,368.4 H896.4 Q898.8,368.4 898.8,366 V342.5"/>
<line class="tt" x1="891.00" y1="347.00" x2="897.80" y2="347.00"/>
<line class="tt" x1="891.00" y1="351.00" x2="897.80" y2="351.00"/>
<line class="tt" x1="891.00" y1="355.00" x2="897.80" y2="355.00"/>
<line class="tt" x1="891.00" y1="359.00" x2="897.80" y2="359.00"/>
<line class="tt" x1="891.00" y1="363.00" x2="897.80" y2="363.00"/>
<line class="tt" x1="894.40" y1="272.00" x2="894.40" y2="342.00"/>
<path class="kw" d="M856.9,396.8 V410 Q857.3,419 867.5,421.4 H921.3 Q931.5,419 931.9,410 V396.8"/>
<rect class="kw" x="853.30" y="392.30" width="82.20" height="4.60" rx="1.6"/>
<line class="tt" x1="859.00" y1="399.00" x2="930.00" y2="399.00"/>
<line class="tt" x1="860.00" y1="402.50" x2="929.00" y2="402.50"/>
<line class="k" x1="866.00" y1="423.40" x2="922.80" y2="423.40"/>
<rect class="kw" x="867.00" y="424.60" width="54.80" height="5.80" rx="1"/>
<rect class="Kw" x="863.60" y="431.20" width="61.60" height="3.40" rx="1.6"/>
<rect class="kw" x="867.00" y="435.40" width="54.80" height="5.00" rx="1"/>
<line class="m" x1="882.50" y1="425.00" x2="882.50" y2="440.00"/>
<line class="m" x1="906.30" y1="425.00" x2="906.30" y2="440.00"/>
<line class="m" x1="885.60" y1="425.00" x2="885.60" y2="440.00"/>
<line class="m" x1="903.20" y1="425.00" x2="903.20" y2="440.00"/>
<path class="kw" d="M859,446 H851.4 Q848.75,446 848.75,448.8 V464.4 Q848.75,467 851.4,467 H937.4 Q940.05,467 940.05,464.4 V448.8 Q940.05,446 937.4,446 H929.8"/>
<path class="kw" d="M859,463.75 V445 Q859,442.5 861.5,442.5 H927.3 Q929.8,442.5 929.8,445 V463.75"/>
<line class="K" x1="855.00" y1="463.90" x2="933.80" y2="463.90"/>
<line class="tt" x1="850.80" y1="448.00" x2="850.80" y2="465.00"/>
<line class="tt" x1="938.00" y1="448.00" x2="938.00" y2="465.00"/>
<path class="k" d="M867,467 V474.4 M921.8,467 V474.4"/>
<rect class="kw" x="818.00" y="474.40" width="152.80" height="3.60" rx="1"/>
<rect class="kw" x="797.50" y="478.00" width="21.90" height="33.25" rx="1"/>
<rect class="kw" x="969.40" y="478.00" width="21.90" height="33.25" rx="1"/>
<rect class="K" x="802.25" y="482.00" width="10.00" height="25.00" rx="1.8"/>
<rect class="K" x="976.55" y="482.00" width="10.00" height="25.00" rx="1.8"/>
<line class="k" x1="819.40" y1="479.50" x2="969.40" y2="479.50"/>
<line class="k" x1="819.40" y1="481.40" x2="969.40" y2="481.40"/>
<line class="K" x1="814.00" y1="489.00" x2="974.80" y2="489.00"/>
<line class="K" x1="814.00" y1="491.80" x2="974.80" y2="491.80"/>
<ellipse class="kw" cx="817.30" cy="499.40" rx="3.60" ry="1.70"/>
<ellipse class="kw" cx="971.50" cy="499.40" rx="3.60" ry="1.70"/>
<ellipse class="kw" cx="817.30" cy="510.00" rx="3.60" ry="1.70"/>
<ellipse class="kw" cx="971.50" cy="510.00" rx="3.60" ry="1.70"/>
<line class="t" x1="797.50" y1="511.00" x2="797.50" y2="526.00"/>
<line class="t" x1="991.30" y1="511.00" x2="991.30" y2="526.00"/>
<line class="t" x1="797.50" y1="522.90" x2="991.30" y2="522.90"/>
<path class="f" d="M797.50,522.90 L806.50,521.60 L806.50,524.20 Z"/>
<path class="f" d="M991.30,522.90 L982.30,524.20 L982.30,521.60 Z"/>
<g transform="translate(916.40,516.20) rotate(0) skewX(-15) scale(1.440) translate(0,-10)" class="tx" style="stroke-width:1.111">
<path transform="translate(0.00,0)" d="M0,2.3 L2.1,0 V10"/>
<path transform="translate(3.40,0)" d="M0,3 Q0,0 2.3,0 Q4.6,0 4.6,3 V7 Q4.6,10 2.3,10 Q0,10 0,7 Z"/>
<path transform="translate(9.30,0)" d="M0.2,2.4 Q0.4,0 2.3,0 Q4.4,0 4.4,2.3 Q4.4,4.4 2,4.5 Q4.6,4.6 4.6,7.2 Q4.6,10 2.3,10 Q0,10 0,7.6"/>
</g>
<line class="K" x1="811.25" y1="512.00" x2="811.25" y2="729.00"/>
<line class="k" x1="817.25" y1="492.00" x2="817.25" y2="729.00"/>
<line class="K" x1="977.55" y1="512.00" x2="977.55" y2="729.00"/>
<line class="k" x1="971.55" y1="492.00" x2="971.55" y2="729.00"/>
<line class="tt" x1="814.20" y1="512.00" x2="814.20" y2="729.00"/>
<line class="tt" x1="974.60" y1="512.00" x2="974.60" y2="729.00"/>
<path class="k" d="M810.4,516.20 H808.6 Q806.8,516.20 806.8,518.10 Q806.8,520.00 808.6,520.00 H810.4"/>
<path class="k" d="M978.40,516.20 H980.20 Q982.00,516.20 982.00,518.10 Q982.00,520.00 980.20,520.00 H978.40"/>
<path class="k" d="M810.4,525.58 H808.6 Q806.8,525.58 806.8,527.48 Q806.8,529.38 808.6,529.38 H810.4"/>
<path class="k" d="M978.40,525.58 H980.20 Q982.00,525.58 982.00,527.48 Q982.00,529.38 980.20,529.38 H978.40"/>
<path class="k" d="M810.4,534.95 H808.6 Q806.8,534.95 806.8,536.85 Q806.8,538.75 808.6,538.75 H810.4"/>
<path class="k" d="M978.40,534.95 H980.20 Q982.00,534.95 982.00,536.85 Q982.00,538.75 980.20,538.75 H978.40"/>
<path class="k" d="M810.4,544.33 H808.6 Q806.8,544.33 806.8,546.23 Q806.8,548.12 808.6,548.12 H810.4"/>
<path class="k" d="M978.40,544.33 H980.20 Q982.00,544.33 982.00,546.23 Q982.00,548.12 980.20,548.12 H978.40"/>
<path class="k" d="M810.4,553.70 H808.6 Q806.8,553.70 806.8,555.60 Q806.8,557.50 808.6,557.50 H810.4"/>
<path class="k" d="M978.40,553.70 H980.20 Q982.00,553.70 982.00,555.60 Q982.00,557.50 980.20,557.50 H978.40"/>
<path class="k" d="M810.4,563.08 H808.6 Q806.8,563.08 806.8,564.98 Q806.8,566.88 808.6,566.88 H810.4"/>
<path class="k" d="M978.40,563.08 H980.20 Q982.00,563.08 982.00,564.98 Q982.00,566.88 980.20,566.88 H978.40"/>
<path class="k" d="M810.4,572.45 H808.6 Q806.8,572.45 806.8,574.35 Q806.8,576.25 808.6,576.25 H810.4"/>
<path class="k" d="M978.40,572.45 H980.20 Q982.00,572.45 982.00,574.35 Q982.00,576.25 980.20,576.25 H978.40"/>
<path class="k" d="M810.4,581.83 H808.6 Q806.8,581.83 806.8,583.73 Q806.8,585.62 808.6,585.62 H810.4"/>
<path class="k" d="M978.40,581.83 H980.20 Q982.00,581.83 982.00,583.73 Q982.00,585.62 980.20,585.62 H978.40"/>
<path class="k" d="M810.4,591.20 H808.6 Q806.8,591.20 806.8,593.10 Q806.8,595.00 808.6,595.00 H810.4"/>
<path class="k" d="M978.40,591.20 H980.20 Q982.00,591.20 982.00,593.10 Q982.00,595.00 980.20,595.00 H978.40"/>
<path class="k" d="M810.4,600.58 H808.6 Q806.8,600.58 806.8,602.48 Q806.8,604.38 808.6,604.38 H810.4"/>
<path class="k" d="M978.40,600.58 H980.20 Q982.00,600.58 982.00,602.48 Q982.00,604.38 980.20,604.38 H978.40"/>
<path class="k" d="M810.4,609.95 H808.6 Q806.8,609.95 806.8,611.85 Q806.8,613.75 808.6,613.75 H810.4"/>
<path class="k" d="M978.40,609.95 H980.20 Q982.00,609.95 982.00,611.85 Q982.00,613.75 980.20,613.75 H978.40"/>
<path class="k" d="M810.4,619.33 H808.6 Q806.8,619.33 806.8,621.23 Q806.8,623.12 808.6,623.12 H810.4"/>
<path class="k" d="M978.40,619.33 H980.20 Q982.00,619.33 982.00,621.23 Q982.00,623.12 980.20,623.12 H978.40"/>
<path class="k" d="M810.4,628.70 H808.6 Q806.8,628.70 806.8,630.60 Q806.8,632.50 808.6,632.50 H810.4"/>
<path class="k" d="M978.40,628.70 H980.20 Q982.00,628.70 982.00,630.60 Q982.00,632.50 980.20,632.50 H978.40"/>
<path class="k" d="M810.4,638.08 H808.6 Q806.8,638.08 806.8,639.98 Q806.8,641.88 808.6,641.88 H810.4"/>
<path class="k" d="M978.40,638.08 H980.20 Q982.00,638.08 982.00,639.98 Q982.00,641.88 980.20,641.88 H978.40"/>
<path class="k" d="M810.4,647.45 H808.6 Q806.8,647.45 806.8,649.35 Q806.8,651.25 808.6,651.25 H810.4"/>
<path class="k" d="M978.40,647.45 H980.20 Q982.00,647.45 982.00,649.35 Q982.00,651.25 980.20,651.25 H978.40"/>
<path class="k" d="M810.4,656.83 H808.6 Q806.8,656.83 806.8,658.73 Q806.8,660.62 808.6,660.62 H810.4"/>
<path class="k" d="M978.40,656.83 H980.20 Q982.00,656.83 982.00,658.73 Q982.00,660.62 980.20,660.62 H978.40"/>
<path class="k" d="M810.4,666.20 H808.6 Q806.8,666.20 806.8,668.10 Q806.8,670.00 808.6,670.00 H810.4"/>
<path class="k" d="M978.40,666.20 H980.20 Q982.00,666.20 982.00,668.10 Q982.00,670.00 980.20,670.00 H978.40"/>
<path class="k" d="M810.4,675.58 H808.6 Q806.8,675.58 806.8,677.48 Q806.8,679.38 808.6,679.38 H810.4"/>
<path class="k" d="M978.40,675.58 H980.20 Q982.00,675.58 982.00,677.48 Q982.00,679.38 980.20,679.38 H978.40"/>
<path class="k" d="M810.4,684.95 H808.6 Q806.8,684.95 806.8,686.85 Q806.8,688.75 808.6,688.75 H810.4"/>
<path class="k" d="M978.40,684.95 H980.20 Q982.00,684.95 982.00,686.85 Q982.00,688.75 980.20,688.75 H978.40"/>
<path class="k" d="M810.4,694.33 H808.6 Q806.8,694.33 806.8,696.23 Q806.8,698.12 808.6,698.12 H810.4"/>
<path class="k" d="M978.40,694.33 H980.20 Q982.00,694.33 982.00,696.23 Q982.00,698.12 980.20,698.12 H978.40"/>
<path class="k" d="M810.4,703.70 H808.6 Q806.8,703.70 806.8,705.60 Q806.8,707.50 808.6,707.50 H810.4"/>
<path class="k" d="M978.40,703.70 H980.20 Q982.00,703.70 982.00,705.60 Q982.00,707.50 980.20,707.50 H978.40"/>
<path class="k" d="M810.4,713.08 H808.6 Q806.8,713.08 806.8,714.98 Q806.8,716.88 808.6,716.88 H810.4"/>
<path class="k" d="M978.40,713.08 H980.20 Q982.00,713.08 982.00,714.98 Q982.00,716.88 980.20,716.88 H978.40"/>
<circle class="m" cx="808.75" cy="518.00" r="0.10"/>
<line class="g" x1="819.00" y1="656.70" x2="969.80" y2="656.70"/>
<line class="g" x1="819.00" y1="662.60" x2="969.80" y2="662.60"/>
<path class="k" d="M818.5,657 Q821.5,664 821.5,672 V678"/>
<path class="k" d="M970.3,657 Q967.3,664 967.3,672 V678"/>
<line class="m" x1="829.50" y1="663.50" x2="829.50" y2="678.00"/>
<line class="tt" x1="875.00" y1="663.50" x2="875.00" y2="678.00"/>
<text class="b b2" x="836.6" y="675.4" font-size="9.4" textLength="18" lengthAdjust="spacingAndGlyphs">MAX</text>
<text class="b b2" x="936" y="675.4" font-size="9.4" textLength="13.8" lengthAdjust="spacingAndGlyphs">MIN</text>
<path class="m" d="M858,677.6 V675 H866 V673.4 H874 V677.6"/>
<path class="m" d="M916,677.6 V675 H924 V673.6 H930 V677.6"/>
<line class="K" x1="858.00" y1="677.40" x2="887.00" y2="677.40"/>
<line class="K" x1="902.00" y1="677.40" x2="931.00" y2="677.40"/>
<line class="k" x1="818.00" y1="678.70" x2="970.80" y2="678.70"/>
<line class="g" x1="819.00" y1="688.60" x2="969.80" y2="688.60"/>
<line class="K" x1="818.00" y1="690.40" x2="970.80" y2="690.40"/>
<line class="k" x1="821.90" y1="691.50" x2="821.90" y2="731.00"/>
<line class="k" x1="966.90" y1="691.50" x2="966.90" y2="731.00"/>
<line class="k" x1="827.50" y1="691.50" x2="827.50" y2="731.00"/>
<line class="k" x1="961.30" y1="691.50" x2="961.30" y2="731.00"/>
<line class="tt" x1="824.60" y1="692.00" x2="824.60" y2="731.00"/>
<line class="tt" x1="964.20" y1="692.00" x2="964.20" y2="731.00"/>
<line class="k" x1="867.00" y1="691.50" x2="867.00" y2="726.00"/>
<line class="k" x1="921.80" y1="691.50" x2="921.80" y2="726.00"/>
<line class="k" x1="882.50" y1="691.50" x2="882.50" y2="726.00"/>
<line class="k" x1="906.30" y1="691.50" x2="906.30" y2="726.00"/>
<rect class="fk" x="837.30" y="725.60" width="114.20" height="5.80" rx="2.4"/>
<line class="wl" x1="840.00" y1="728.40" x2="949.00" y2="728.40"/>
<path class="w" d="M888.75,372 V727 Q888.75,731.6 894.4,731.6 Q900,731.6 900,727 V372 Z"/>
<path class="k" d="M888.75,372 V727 Q888.75,731.6 894.4,731.6 Q900,731.6 900,727 V372"/>
<line class="tt" x1="890.60" y1="423.00" x2="890.60" y2="728.00"/>
<line class="tt" x1="898.20" y1="423.00" x2="898.20" y2="728.00"/>
<ellipse class="Kw" cx="894.40" cy="423.77" rx="8.60" ry="1.90"/>
<ellipse class="Kw" cx="894.40" cy="433.15" rx="8.60" ry="1.90"/>
<ellipse class="Kw" cx="894.40" cy="442.52" rx="8.60" ry="1.90"/>
<ellipse class="Kw" cx="894.40" cy="451.90" rx="8.60" ry="1.90"/>
<ellipse class="Kw" cx="894.40" cy="461.27" rx="8.60" ry="1.90"/>
<ellipse class="Kw" cx="894.40" cy="470.65" rx="8.60" ry="1.90"/>
<ellipse class="Kw" cx="894.40" cy="480.02" rx="8.60" ry="1.90"/>
<ellipse class="Kw" cx="894.40" cy="489.40" rx="8.60" ry="1.90"/>
<ellipse class="Kw" cx="894.40" cy="498.77" rx="8.60" ry="1.90"/>
<ellipse class="Kw" cx="894.40" cy="508.15" rx="8.60" ry="1.90"/>
<ellipse class="Kw" cx="894.40" cy="517.52" rx="8.60" ry="1.90"/>
<ellipse class="Kw" cx="894.40" cy="526.90" rx="8.60" ry="1.90"/>
<ellipse class="Kw" cx="894.40" cy="536.27" rx="8.60" ry="1.90"/>
<ellipse class="Kw" cx="894.40" cy="545.65" rx="8.60" ry="1.90"/>
<ellipse class="Kw" cx="894.40" cy="555.02" rx="8.60" ry="1.90"/>
<ellipse class="Kw" cx="894.40" cy="564.40" rx="8.60" ry="1.90"/>
<ellipse class="Kw" cx="894.40" cy="573.77" rx="8.60" ry="1.90"/>
<ellipse class="Kw" cx="894.40" cy="583.15" rx="8.60" ry="1.90"/>
<ellipse class="Kw" cx="894.40" cy="592.52" rx="8.60" ry="1.90"/>
<ellipse class="Kw" cx="894.40" cy="601.90" rx="8.60" ry="1.90"/>
<ellipse class="Kw" cx="894.40" cy="611.27" rx="8.60" ry="1.90"/>
<ellipse class="Kw" cx="894.40" cy="620.65" rx="8.60" ry="1.90"/>
<ellipse class="Kw" cx="894.40" cy="630.02" rx="8.60" ry="1.90"/>
<ellipse class="Kw" cx="894.40" cy="639.40" rx="8.60" ry="1.90"/>
<ellipse class="Kw" cx="894.40" cy="648.77" rx="8.60" ry="1.90"/>
<ellipse class="Kw" cx="894.40" cy="658.15" rx="8.60" ry="1.90"/>
<ellipse class="Kw" cx="894.40" cy="667.52" rx="8.60" ry="1.90"/>
<ellipse class="Kw" cx="894.40" cy="676.90" rx="8.60" ry="1.90"/>
<ellipse class="Kw" cx="894.40" cy="686.27" rx="8.60" ry="1.90"/>
<ellipse class="Kw" cx="894.40" cy="695.65" rx="8.60" ry="1.90"/>
<ellipse class="Kw" cx="894.40" cy="705.02" rx="8.60" ry="1.90"/>
<ellipse class="Kw" cx="894.40" cy="714.40" rx="8.60" ry="1.90"/>
<ellipse class="Kw" cx="894.40" cy="723.77" rx="8.60" ry="1.90"/>
<rect class="Kw" x="814.70" y="732.20" width="159.60" height="9.10" rx="2.4"/>
<line class="g" x1="818.00" y1="738.60" x2="971.00" y2="738.60"/>
<path class="kw" d="M818.8,741.3 V750.8 H970.2 V741.3"/>
<line class="K" x1="818.80" y1="750.80" x2="970.20" y2="750.80"/>
<path class="fk" d="M839.20,751.60 L949.60,751.60 L950.80,753.02 L949.60,754.45 L950.80,755.88 L949.60,757.30 L950.80,758.73 L949.60,760.15 L950.80,761.58 L949.60,763.00 L839.20,763.00 L838.00,761.58 L839.20,760.15 L838.00,758.73 L839.20,757.30 L838.00,755.88 L839.20,754.45 L838.00,753.02 L839.20,751.60 Z"/>
<line class="wl" x1="839.20" y1="754.45" x2="949.60" y2="754.45"/>
<line class="wl" x1="839.20" y1="757.30" x2="949.60" y2="757.30"/>
<line class="wl" x1="839.20" y1="760.15" x2="949.60" y2="760.15"/>
<path class="kw" d="M821.4,768.9 Q821,783 832.6,786.9 H956.2 Q967.8,783 967.4,768.9 Z"/>
<rect class="kw" x="819.30" y="763.00" width="150.20" height="5.90" rx="1.6"/>
<line class="tt" x1="824.00" y1="772.20" x2="965.00" y2="772.20"/>
<path class="k" d="M822.6,769.5 V778.6 Q823.8,783.2 831.8,785 V769.5"/>
<path class="k" d="M966.1999999999999,769.5 V778.6 Q965.0,783.2 957.0,785 V769.5"/>
<path class="k" d="M842,769.5 V780.5 Q842.9,785 850.8,785.9 V769.5"/>
<path class="k" d="M946.8,769.5 V780.5 Q945.9,785 938.0,785.9 V769.5"/>
<path class="k" d="M891.00,769.50 V782.50 Q891.00,785.90 894.40,785.90 Q897.80,785.90 897.80,782.50 V769.50"/>
<path class="fk" d="M839.20,788.20 L949.60,788.20 L950.80,789.65 L949.60,791.10 L950.80,792.55 L949.60,794.00 L950.80,795.45 L949.60,796.90 L950.80,798.35 L949.60,799.80 L839.20,799.80 L838.00,798.35 L839.20,796.90 L838.00,795.45 L839.20,794.00 L838.00,792.55 L839.20,791.10 L838.00,789.65 L839.20,788.20 Z"/>
<line class="wl" x1="839.20" y1="791.10" x2="949.60" y2="791.10"/>
<line class="wl" x1="839.20" y1="794.00" x2="949.60" y2="794.00"/>
<line class="wl" x1="839.20" y1="796.90" x2="949.60" y2="796.90"/>
<rect class="kw" x="841.20" y="799.80" width="106.50" height="5.20" rx="0.6"/>
<path class="k" d="M912.6,546.4 C918,540 927,536.2 937,536.3 C946,536.5 953,541 957.6,547.9"/>
<path class="k" d="M912.6,546.4 H926.6 C931.5,543 938,541 945,541 C950,541.3 954,543.6 957,547.3"/>
<path class="mw" d="M911.8,561.2 L924.4,548.2 H927.4 L925,561.2 H921.6 L922,558.4 H918.2 L915.6,561.2 Z M920.2,556 L923.5,552.2 L922.7,556 Z"/>
<path class="mw" d="M927,561.2 L929.4,548.2 H932.2 L931.3,553 H934.6 L935.5,548.2 H938.3 L935.9,561.2 H933.1 L934.1,555.8 H930.8 L929.8,561.2 Z"/>
<path class="mw" d="M938.4,561.2 L940.8,548.2 H943.6 L942.3,555.6 L950.8,548.2 H955.2 L952.4,561.2 H949.4 L950.9,553.4 L942.4,561.2 Z"/>
<line class="k" x1="910.80" y1="562.90" x2="953.30" y2="562.90"/>
<path class="f" d="M915,563 H932.5 L930,566 L914.6,566 Z"/>
<path class="k" d="M910.8,563.2 L910.4,566.4 C916,571.2 925,573.6 933.3,573.5 C941,573.2 948,569.5 953.3,564.1"/>
<path class="m" d="M912,566.2 C918,568.6 925,568.6 931,567 C935,566 938,565 940.6,563.6"/>
</g>
</svg>
</body></html>
